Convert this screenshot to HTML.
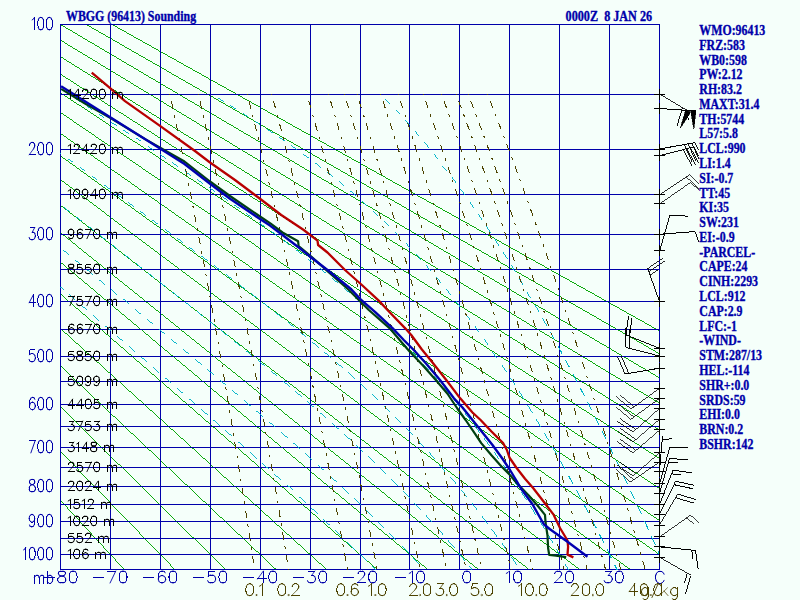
<!DOCTYPE html>
<html><head><meta charset="utf-8"><title>WBGG (96413) Sounding</title>
<style>html,body{margin:0;padding:0;background:#f5fffa;}svg{display:block;}text{font-family:"Liberation Serif",serif;font-weight:bold;fill:#0000aa;stroke:#0000aa;stroke-width:0.35px;}</style>
</head><body>
<svg width="800" height="600" viewBox="0 0 800 600">
<rect x="0" y="0" width="800" height="600" fill="#f5fffa"/>
<defs><clipPath id="plot"><rect x="60" y="24" width="600" height="546"/></clipPath><clipPath id="barbclip"><rect x="0" y="0" width="699" height="600"/></clipPath></defs>
<g clip-path="url(#plot)" shape-rendering="crispEdges" fill="none">
<path d="M-381.06,22 L125.65,571 M-355.34,22 L176.31,571 M-329.62,22 L226.98,571 M-303.89,22 L277.64,571 M-278.17,22 L328.31,571 M-252.45,22 L378.98,571 M-226.72,22 L429.64,571 M-201,22 L480.31,571 M-175.28,22 L530.98,571 M-149.55,22 L581.64,571 M-123.83,22 L632.31,571 M-98.11,22 L682.98,571 M-72.38,22 L733.64,571 M-46.66,22 L784.31,571 M-20.93,22 L834.97,571 M4.79,22 L885.64,571 M30.51,22 L936.31,571 M56.24,22 L986.97,571 M81.96,22 L1037.64,571 M107.68,22 L1088.31,571" stroke="#00a400" stroke-width="0.95" fill="none" />
</g>
<g shape-rendering="crispEdges" fill="none" stroke="#0000aa" stroke-width="1">
<path d="M60,24.5 H660 M60,94.5 H660 M60,149.5 H660 M60,194.5 H660 M60,234.5 H660 M60,269.5 H660 M60,301.5 H660 M60,329.5 H660 M60,356.5 H660 M60,381.5 H660 M60,404.5 H660 M60,426.5 H660 M60,447.5 H660 M60,467.5 H660 M60,486.5 H660 M60,504.5 H660 M60,521.5 H660 M60,538.5 H660 M60,554.5 H660 M60,569.5 H660 M60.5,24 V570 M110.5,24 V570 M160.5,24 V570 M210.5,24 V570 M260.5,24 V570 M310.5,24 V570 M360.5,24 V570 M409.5,24 V570 M459.5,24 V570 M509.5,24 V570 M559.5,24 V570 M609.5,24 V570 M659.5,24 V570"/>
</g>
<g clip-path="url(#plot)" shape-rendering="crispEdges" fill="none">
<path d="M-157.67,98.67 L-152.73,102.94 M-146.69,108.15 L-141.69,112.47 M-135.67,117.67 L-130.62,122.03 M-124.61,127.22 L-119.51,131.63 M-113.51,136.81 L-108.35,141.26 M-102.37,146.42 L-97.16,150.93 M-91.2,156.08 L-85.93,160.63 M-79.98,165.76 L-74.66,170.36 M-68.73,175.48 L-63.35,180.13 M-57.44,185.24 L-52,189.93 M-46.1,195.03 L-40.62,199.77 M-34.73,204.85 L-29.19,209.64 M-23.32,214.71 L-17.72,219.55 M-11.87,224.6 L-6.21,229.49 M-0.38,234.53 L5.34,239.47 M11.15,244.49 L16.92,249.48 M22.73,254.49 L28.55,259.53 M34.34,264.53 L40.22,269.61 M45.99,274.6 L51.93,279.73 M57.68,284.7 L63.68,289.89 M69.41,294.85 L75.47,300.08 M81.19,305.03 L87.3,310.31 M93,315.24 L99.17,320.58 M104.85,325.5 L111.07,330.89 M116.74,335.79 L123.02,341.24 M128.67,346.13 L135.01,351.62 M140.63,356.5 L147.03,362.05 M152.64,366.92 L159.09,372.53 M164.68,377.39 L171.18,383.05 M176.75,387.9 L183.31,393.61 M188.85,398.45 L195.47,404.23 M200.99,409.06 L207.66,414.9 M213.15,419.73 L219.87,425.63 M225.34,430.45 L232.11,436.42 M237.55,441.23 L244.36,447.28 M249.77,452.09 L256.63,458.2 M262.01,463.02 L268.91,469.21 M274.26,474.02 L281.19,480.3 M286.5,485.12 L293.47,491.48 M298.74,496.31 L305.74,502.76 M310.96,507.61 L317.99,514.16 M323.16,519.02 L330.21,525.67 M335.33,530.55 L342.39,537.32 M347.45,542.22 L354.52,549.11 M359.53,554.03 L366.59,561.05 M371.53,566 L375.44,569.94 M-120.91,98.55 L-115.87,102.7 M-109.7,107.77 L-104.61,111.96 M-98.46,117.02 L-93.31,121.26 M-87.18,126.3 L-81.98,130.58 M-75.86,135.62 L-70.6,139.94 M-64.5,144.97 L-59.19,149.34 M-53.11,154.35 L-47.74,158.76 M-41.67,163.76 L-36.25,168.22 M-30.2,173.2 L-24.72,177.7 M-18.68,182.68 L-13.16,187.23 M-7.13,192.18 L-1.55,196.78 M4.46,201.72 L10.1,206.37 M16.09,211.3 L21.78,215.99 M27.76,220.91 L33.51,225.64 M39.46,230.55 L45.27,235.33 M51.21,240.22 L57.07,245.05 M63,249.93 L68.92,254.8 M74.82,259.67 L80.8,264.6 M86.69,269.45 L92.72,274.42 M98.59,279.27 L104.68,284.28 M110.53,289.12 L116.67,294.18 M122.51,299.01 L128.71,304.12 M134.53,308.93 L140.78,314.1 M146.58,318.9 L152.88,324.12 M158.66,328.91 L165.02,334.18 M170.78,338.97 L177.19,344.29 M182.93,349.07 L189.39,354.45 M195.11,359.22 L201.62,364.66 M207.31,369.42 L213.88,374.92 M219.54,379.68 L226.15,385.25 M231.79,390.01 L238.45,395.64 M244.05,400.4 L250.75,406.1 M256.33,410.87 L263.06,416.65 M268.6,421.42 L275.38,427.28 M280.87,432.05 L287.68,438 M293.14,442.79 L299.97,448.83 M305.38,453.64 L312.24,459.77 M317.6,464.6 L324.47,470.84 M329.78,475.69 L336.66,482.04 M341.91,486.92 L348.8,493.39 M353.98,498.31 L360.87,504.9 M365.99,509.85 L372.87,516.58 M377.91,521.57 L384.77,528.44 M389.73,533.47 L396.57,540.49 M401.45,545.57 L408.26,552.74 M413.06,557.86 L419.83,565.2 M-75.93,98.41 L-70.78,102.42 M-64.48,107.32 L-59.27,111.37 M-52.99,116.26 L-47.73,120.35 M-41.46,125.23 L-36.15,129.36 M-29.89,134.23 L-24.53,138.4 M-18.29,143.26 L-12.87,147.47 M-6.65,152.31 L-1.18,156.57 M5.03,161.4 L10.55,165.7 M16.75,170.52 L22.32,174.86 M28.5,179.67 L34.13,184.06 M40.3,188.85 L45.98,193.28 M52.13,198.07 L57.87,202.54 M64,207.31 L69.79,211.82 M75.9,216.59 L81.75,221.14 M87.85,225.9 L93.75,230.5 M99.83,235.24 L105.79,239.89 M111.85,244.62 L117.86,249.31 M123.9,254.03 L129.97,258.77 M135.99,263.48 L142.11,268.27 M148.11,272.97 L154.28,277.81 M160.27,282.5 L166.49,287.39 M172.45,292.08 L178.73,297.02 M184.67,301.7 L190.99,306.69 M196.91,311.38 L203.28,316.43 M209.17,321.11 L215.58,326.21 M221.45,330.89 L227.91,336.07 M233.74,340.75 L240.24,345.99 M246.05,350.68 L252.59,355.99 M258.35,360.69 L264.93,366.07 M270.65,370.79 L277.26,376.26 M282.95,380.99 L289.58,386.54 M295.22,391.29 L301.87,396.94 M307.46,401.72 L314.13,407.47 M319.66,412.28 L326.34,418.14 M331.81,422.98 L338.5,428.96 M343.9,433.84 L350.58,439.95 M355.92,444.87 L362.59,451.11 M367.84,456.08 L374.5,462.46 M379.67,467.48 L386.31,474 M391.39,479.08 L397.99,485.76 M402.99,490.89 L409.55,497.73 M414.45,502.91 L420.97,509.92 M425.77,515.16 L432.24,522.33 M436.94,527.63 L443.36,534.98 M447.95,540.33 L454.31,547.85 M458.81,553.26 L465.11,560.96 M469.49,566.41 L472.3,569.94 M-15.33,98.24 L-10.04,102.06 M-3.58,106.75 L1.76,110.62 M8.21,115.29 L13.59,119.2 M20.03,123.86 L25.46,127.8 M31.88,132.46 L37.37,136.44 M43.78,141.09 L49.32,145.11 M55.71,149.74 L61.3,153.8 M67.68,158.42 L73.32,162.52 M79.68,167.14 L85.38,171.27 M91.72,175.88 L97.47,180.06 M103.79,184.66 L109.59,188.88 M115.9,193.46 L121.75,197.73 M128.04,202.31 L133.94,206.61 M140.21,211.19 L146.17,215.54 M152.42,220.11 L158.42,224.5 M164.65,229.07 L170.7,233.51 M176.91,238.07 L183.01,242.57 M189.19,247.13 L195.34,251.68 M201.49,256.24 L207.68,260.84 M213.81,265.41 L220.04,270.07 M226.14,274.65 L232.41,279.37 M238.47,283.96 L244.78,288.76 M250.81,293.36 L257.15,298.23 M263.13,302.85 L269.5,307.8 M275.44,312.44 L281.84,317.48 M287.73,322.15 L294.14,327.28 M299.98,331.99 L306.4,337.22 M312.18,341.97 L318.61,347.31 M324.32,352.1 L330.75,357.56 M336.39,362.4 L342.82,367.99 M348.38,372.89 L354.79,378.61 M360.27,383.57 L366.66,389.43 M372.05,394.45 L378.42,400.46 M383.71,405.55 L390.04,411.72 M395.24,416.87 L401.52,423.2 M406.62,428.42 L412.86,434.92 M417.84,440.21 L424.03,446.88 M428.91,452.23 L435.04,459.08 M439.81,464.5 L445.88,471.52 M450.54,476.99 L456.55,484.19 M461.09,489.73 L467.04,497.1 M471.48,502.69 L477.36,510.23 M481.68,515.87 L487.5,523.59 M491.72,529.28 L497.48,537.17 M501.59,542.9 L507.28,550.96 M511.29,556.72 L516.92,564.95 M74.63,98 L80.08,101.59 M86.74,105.99 L92.24,109.61 M98.89,114 L104.43,117.66 M111.06,122.05 L116.65,125.75 M123.27,130.13 L128.91,133.86 M135.5,138.24 L141.19,142.02 M147.77,146.39 L153.5,150.21 M160.05,154.58 L165.83,158.44 M172.37,162.82 L178.18,166.73 M184.69,171.11 L190.55,175.07 M197.04,179.46 L202.94,183.46 M209.39,187.87 L215.33,191.93 M221.75,196.35 L227.72,200.48 M234.11,204.91 L240.11,209.12 M246.45,213.58 L252.49,217.85 M258.78,222.34 L264.84,226.7 M271.09,231.23 L277.16,235.67 M283.35,240.24 L289.44,244.79 M295.57,249.41 L301.66,254.06 M307.72,258.73 L313.81,263.5 M319.8,268.24 L325.88,273.13 M331.78,277.94 L337.85,282.97 M343.67,287.85 L349.72,293.01 M355.44,297.98 L361.46,303.29 M367.08,308.33 L373.06,313.8 M378.57,318.93 L384.51,324.56 M389.91,329.78 L395.81,335.57 M401.1,340.87 L406.94,346.83 M412.1,352.21 L417.89,358.35 M422.94,363.81 L428.67,370.12 M433.59,375.65 L439.26,382.14 M444.06,387.74 L449.67,394.4 M454.36,400.07 L459.9,406.9 M464.47,412.63 L469.95,419.63 M474.4,425.42 L479.82,432.58 M484.16,438.42 L489.53,445.75 M493.76,451.64 L499.06,459.13 M503.19,465.06 L508.44,472.71 M512.46,478.67 L517.66,486.49 M521.59,492.47 L526.74,500.44 M530.57,506.46 L535.67,514.58 M539.41,520.62 L544.47,528.89 M548.13,534.95 L553.15,543.37 M556.72,549.44 L561.7,558.02 M565.19,564.09 L568.51,569.94 M217.94,97.83 L223.5,101.24 M230.28,105.45 L235.86,108.95 M242.61,113.19 L248.19,116.77 M254.88,121.07 L260.49,124.74 M267.11,129.1 L272.73,132.86 M279.29,137.3 L284.91,141.16 M291.39,145.68 L297,149.66 M303.41,154.25 L309,158.37 M315.32,163.05 L320.89,167.3 M327.1,172.1 L332.67,176.48 M338.76,181.39 L344.29,185.91 M350.28,190.92 L355.76,195.62 M361.63,200.74 L367.08,205.58 M372.82,210.81 L378.21,215.84 M383.82,221.17 L389.17,226.36 M394.65,231.79 L399.94,237.15 M405.28,242.68 L410.52,248.21 M415.73,253.84 L420.9,259.53 M425.99,265.25 L431.1,271.11 M436.05,276.91 L441.11,282.93 M445.94,288.8 L450.94,294.99 M455.64,300.92 L460.59,307.27 M465.17,313.26 L470.07,319.77 M474.53,325.81 L479.38,332.47 M483.74,338.57 L488.54,345.38 M492.79,351.51 L497.54,358.47 M501.69,364.64 L506.4,371.75 M510.46,377.95 L515.13,385.2 M519.09,391.43 L523.73,398.82 M527.59,405.07 L532.2,412.61 M535.98,418.87 L540.56,426.55 M544.26,432.83 L548.81,440.64 M552.43,446.93 L556.95,454.88 M560.5,461.18 L565,469.27 M385.42,99.06 L389.99,103.73 M395.46,109.54 L399.97,114.37 M405.32,120.26 L409.77,125.26 M415,131.23 L419.39,136.38 M424.48,142.44 L428.85,147.73 M433.8,153.86 L438.11,159.3 M442.95,165.5 L447.23,171.07 M451.96,177.33 L456.19,183.05 M460.8,189.36 L465.01,195.21 M469.51,201.56 L473.69,207.55 M478.08,213.94 L482.24,220.06 M486.54,226.49 L490.66,232.74 M494.87,239.19 L498.97,245.57 M503.09,252.05 L507.17,258.56 M511.2,265.06 L515.27,271.69 M519.21,278.21 L523.27,284.97 M527.13,291.5 L531.17,298.38 M534.97,304.92 L538.99,311.93 M542.71,318.48 L546.72,325.61" stroke="#00b4c8" stroke-width="0.95" fill="none" />
<path d="M568.47,475.57 L572.96,483.79 M576.36,490.09 L580.83,498.45 M584.16,504.75 L588.61,513.24 M591.88,519.54 L596.32,528.17 M599.53,534.46 L603.95,543.22 M607.1,549.51 L611.51,558.4 M614.6,564.68 L617.18,569.94 M550.38,332.17 L554.38,339.42 M557.97,345.98 L561.96,353.35 M565.48,359.91 L569.48,367.41 M572.94,373.97 L576.92,381.59 M580.32,388.14 L584.31,395.88 M587.65,402.43 L591.63,410.3 M594.92,416.84 L598.9,424.82 M602.13,431.36 L606.11,439.47 M609.29,445.99 L613.27,454.22 M616.4,460.74 L620.39,469.09 M623.47,475.59 L627.45,484.06 M630.49,490.55 L634.48,499.15 M637.47,505.62 L641.46,514.34 M644.4,520.8 L648.4,529.64 M651.3,536.09 L655.31,545.05 M658.16,551.48 L662.18,560.57 M664.99,566.98 L666.29,569.94" stroke="#00b4c8" stroke-width="1" fill="none" />
</g>
<g clip-path="url(#plot)" shape-rendering="crispEdges" fill="none">
<path d="M169.9,94.42 L170.03,95.01 M171.43,101.46 L172.97,108.59 M174.35,115.05 L174.9,117.59 M176.26,124.05 L177.77,131.19 M179.12,137.65 L179.65,140.19 M180.99,146.66 L182.47,153.81 M183.79,160.27 L184.31,162.82 M185.62,169.29 L187.06,176.45 M188.36,182.92 L188.87,185.47 M190.15,191.94 L191.56,199.1 M192.83,205.58 L193.33,208.13 M194.59,214.61 L195.97,221.78 M197.22,228.26 L197.7,230.81 M198.94,237.3 L200.3,244.47 M201.52,250.96 L201.99,253.51 M203.21,260 L204.54,267.18 M205.73,273.67 L206.21,276.22 M207.39,282.72 L208.7,289.9 M209.88,296.39 L210.34,298.95 M211.51,305.45 L212.79,312.63 M213.95,319.13 L214.4,321.69 M215.55,328.19 L216.81,335.38 M217.94,341.88 L218.39,344.45 M219.52,350.95 L220.76,358.14 M221.87,364.65 L222.31,367.21 M223.42,373.72 L224.64,380.91 M225.74,387.42 L226.17,389.99 M227.26,396.49 L228.46,403.69 M229.54,410.21 L229.97,412.77 M231.04,419.28 L232.22,426.49 M233.28,433 L233.7,435.57 M234.76,442.08 L235.92,449.29 M236.97,455.8 L237.38,458.37 M238.42,464.89 L239.57,472.1 M240.6,478.62 L241.01,481.19 M242.03,487.71 L243.16,494.92 M244.18,501.44 L244.58,504.01 M245.59,510.53 L246.71,517.74 M247.71,524.27 L248.1,526.84 M249.1,533.36 L250.2,540.58 M251.19,547.1 L251.57,549.67 M252.56,556.2 L253.64,563.42 M198.39,94.42 L198.52,95.01 M200.01,101.44 L201.64,108.55 M203.11,114.99 L203.68,117.52 M205.13,123.96 L206.73,131.09 M208.17,137.53 L208.73,140.07 M210.15,146.51 L211.71,153.64 M213.12,160.09 L213.67,162.63 M215.06,169.08 L216.59,176.22 M217.96,182.68 L218.5,185.22 M219.87,191.68 L221.36,198.82 M222.71,205.28 L223.24,207.83 M224.58,214.29 L226.05,221.44 M227.37,227.91 L227.89,230.46 M229.2,236.93 L230.64,244.08 M231.94,250.55 L232.45,253.1 M233.73,259.58 L235.15,266.74 M236.42,273.21 L236.92,275.76 M238.19,282.24 L239.58,289.41 M240.83,295.89 L241.32,298.44 M242.56,304.93 L243.92,312.1 M245.15,318.58 L245.64,321.14 M246.86,327.62 L248.2,334.8 M249.41,341.29 L249.88,343.84 M251.08,350.33 L252.4,357.51 M253.59,364 L254.06,366.56 M255.24,373.06 L256.54,380.24 M257.71,386.73 L258.17,389.29 M259.33,395.79 L260.61,402.98 M261.76,409.48 L262.21,412.04 M263.35,418.54 L264.61,425.73 M265.75,432.23 L266.19,434.79 M267.32,441.29 L268.56,448.49 M269.67,454.99 L270.11,457.56 M271.22,464.06 L272.45,471.26 M273.55,477.77 L273.98,480.33 M275.07,486.84 L276.28,494.04 M277.36,500.55 L277.79,503.11 M278.87,509.62 L280.06,516.83 M281.13,523.34 L281.55,525.91 M282.61,532.42 L283.78,539.62 M284.84,546.14 L285.25,548.71 M286.3,555.22 L287.46,562.43 M288.5,568.95 L288.66,569.94 M247.31,94.42 L247.45,95 M249.08,101.4 L250.88,108.48 M252.49,114.88 L253.13,117.4 M254.72,123.8 L256.48,130.89 M258.06,137.29 L258.68,139.82 M260.24,146.23 L261.96,153.33 M263.51,159.74 L264.11,162.27 M265.65,168.69 L267.34,175.79 M268.85,182.22 L269.45,184.75 M270.95,191.17 L272.6,198.28 M274.09,204.71 L274.67,207.25 M276.15,213.68 L277.77,220.8 M279.23,227.23 L279.8,229.77 M281.25,236.21 L282.84,243.33 M284.28,249.78 L284.84,252.32 M286.26,258.76 L287.83,265.89 M289.23,272.34 L289.79,274.88 M291.18,281.33 L292.72,288.47 M294.11,294.92 L294.65,297.46 M296.02,303.92 L297.53,311.06 M298.89,317.52 L299.43,320.06 M300.78,326.52 L302.27,333.67 M303.6,340.13 L304.13,342.68 M305.46,349.14 L306.92,356.29 M308.24,362.76 L308.76,365.31 M310.07,371.78 L311.51,378.94 M312.8,385.41 L313.31,387.96 M314.6,394.43 L316.02,401.59 M317.3,408.07 L317.8,410.62 M319.07,417.09 L320.47,424.26 M321.73,430.74 L322.22,433.29 M323.47,439.77 L324.85,446.94 M326.09,453.42 L326.58,455.97 M327.81,462.46 L329.17,469.63 M330.39,476.12 L330.87,478.67 M332.09,485.16 L333.43,492.33 M334.64,498.82 L335.11,501.38 M336.31,507.87 L337.63,515.05 M338.82,521.54 L339.29,524.1 M340.47,530.59 L341.78,537.77 M342.95,544.27 L343.41,546.83 M344.58,553.32 L345.87,560.51 M347.03,567.01 L347.49,569.57 M271.78,94.42 L271.94,95 M273.64,101.38 L275.52,108.43 M277.21,114.81 L277.87,117.33 M279.54,123.71 L281.38,130.78 M283.04,137.17 L283.69,139.68 M285.32,146.08 L287.12,153.15 M288.75,159.55 L289.38,162.07 M290.99,168.47 L292.75,175.56 M294.34,181.96 L294.97,184.49 M296.54,190.89 L298.27,197.99 M299.83,204.4 L300.44,206.93 M301.99,213.34 L303.69,220.44 M305.22,226.86 L305.82,229.39 M307.34,235.81 L309.01,242.92 M310.52,249.35 L311.11,251.88 M312.6,258.31 L314.24,265.42 M315.72,271.85 L316.3,274.39 M317.76,280.82 L319.38,287.94 M320.83,294.38 L321.4,296.92 M322.84,303.36 L324.43,310.48 M325.86,316.93 L326.42,319.47 M327.84,325.91 L329.4,333.04 M330.81,339.49 L331.36,342.03 M332.75,348.48 L334.29,355.62 M335.68,362.07 L336.22,364.61 M337.6,371.07 L339.11,378.21 M340.47,384.67 L341.01,387.21 M342.36,393.67 L343.85,400.82 M345.2,407.28 L345.72,409.83 M347.06,416.29 L348.53,423.44 M349.85,429.91 L350.37,432.45 M351.69,438.92 L353.14,446.08 M354.44,452.54 L354.96,455.09 M356.25,461.56 L357.68,468.72 M358.97,475.2 L359.48,477.75 M360.76,484.22 L362.17,491.38 M363.44,497.86 L363.93,500.41 M365.2,506.89 L366.59,514.06 M367.84,520.54 L368.33,523.09 M369.58,529.57 L370.95,536.74 M372.19,543.22 L372.68,545.78 M373.91,552.26 L375.26,559.44 M376.49,565.92 L376.97,568.48 M306.93,94.42 L307.1,95 M308.92,101.35 L310.92,108.37 M312.71,114.72 L313.42,117.22 M315.2,123.57 L317.16,130.61 M318.92,136.97 L319.61,139.47 M321.36,145.84 L323.28,152.88 M325.01,159.25 L325.68,161.76 M327.4,168.13 L329.28,175.19 M330.98,181.57 L331.64,184.08 M333.32,190.46 L335.17,197.52 M336.84,203.91 L337.49,206.43 M339.14,212.82 L340.96,219.89 M342.59,226.28 L343.23,228.8 M344.86,235.2 L346.64,242.28 M348.25,248.68 L348.88,251.2 M350.47,257.6 L352.23,264.69 M353.81,271.1 L354.43,273.62 M356,280.03 L357.72,287.13 M359.28,293.54 L359.89,296.07 M361.43,302.49 L363.13,309.59 M364.66,316.01 L365.26,318.54 M366.78,324.96 L368.45,332.06 M369.96,338.49 L370.55,341.02 M372.04,347.45 L373.69,354.56 M375.17,360.99 L375.75,363.53 M377.23,369.96 L378.85,377.08 M380.31,383.52 L380.89,386.05 M382.34,392.49 L383.94,399.61 M385.38,406.05 L385.94,408.59 M387.37,415.03 L388.95,422.16 M390.37,428.61 L390.93,431.15 M392.34,437.59 L393.9,444.73 M395.3,451.18 L395.85,453.72 M397.24,460.17 L398.77,467.31 M400.15,473.76 L400.7,476.3 M402.07,482.76 L403.59,489.9 M404.95,496.36 L405.48,498.9 M406.84,505.36 L408.34,512.5 M409.68,518.97 L410.21,521.51 M411.55,527.97 L413.03,535.12 M414.36,541.59 L414.88,544.14 M416.2,550.6 L417.66,557.75 M418.97,564.22 L419.49,566.77 M328.6,94.42 L328.77,95 M330.65,101.32 L332.73,108.32 M334.6,114.65 L335.33,117.15 M337.18,123.48 L339.21,130.49 M341.04,136.83 L341.76,139.33 M343.58,145.68 L345.57,152.7 M347.37,159.05 L348.07,161.56 M349.85,167.91 L351.81,174.94 M353.57,181.3 L354.26,183.81 M356.01,190.17 L357.93,197.22 M359.66,203.59 L360.34,206.1 M362.06,212.47 L363.95,219.52 M365.65,225.9 L366.32,228.41 M368.01,234.79 L369.86,241.85 M371.53,248.23 L372.19,250.75 M373.85,257.14 L375.68,264.21 M377.32,270.6 L377.96,273.12 M379.6,279.51 L381.39,286.59 M383.01,292.99 L383.65,295.51 M385.25,301.91 L387.02,308.99 M388.62,315.4 L389.24,317.92 M390.82,324.33 L392.57,331.42 M394.13,337.83 L394.75,340.35 M396.31,346.77 L398.02,353.86 M399.57,360.28 L400.18,362.81 M401.71,369.23 L403.4,376.33 M404.92,382.75 L405.52,385.28 M407.04,391.7 L408.7,398.81 M410.21,405.24 L410.79,407.77 M412.29,414.2 L413.93,421.31 M415.41,427.74 L415.99,430.28 M417.47,436.71 L419.09,443.83 M420.55,450.26 L421.12,452.8 M422.58,459.24 L424.18,466.36 M425.62,472.8 L426.18,475.34 M427.62,481.78 L429.2,488.91 M430.62,495.35 L431.18,497.89 M432.6,504.34 L434.16,511.47 M435.56,517.92 L436.11,520.46 M437.51,526.91 L439.05,534.04 M440.44,540.5 L440.99,543.04 M442.37,549.49 L443.89,556.63 M445.26,563.09 L445.8,565.63 M344.49,94.42 L344.66,95 M346.6,101.31 L348.73,108.29 M350.65,114.6 L351.4,117.09 M353.3,123.41 L355.39,130.41 M357.27,136.73 L358.01,139.23 M359.87,145.56 L361.92,152.56 M363.77,158.9 L364.49,161.4 M366.32,167.74 L368.34,174.76 M370.15,181.1 L370.86,183.6 M372.66,189.95 L374.63,196.98 M376.41,203.34 L377.11,205.84 M378.88,212.2 L380.82,219.24 M382.57,225.6 L383.26,228.11 M384.99,234.48 L386.9,241.52 M388.62,247.89 L389.3,250.4 M391.01,256.78 L392.89,263.83 M394.58,270.21 L395.24,272.73 M396.92,279.11 L398.77,286.17 M400.44,292.56 L401.09,295.07 M402.75,301.46 L404.57,308.53 M406.21,314.93 L406.85,317.44 M408.48,323.84 L410.27,330.92 M411.89,337.32 L412.52,339.84 M414.13,346.24 L415.89,353.32 M417.49,359.73 L418.11,362.25 M419.69,368.66 L421.44,375.75 M423,382.16 L423.62,384.68 M425.18,391.1 L426.9,398.19 M428.44,404.61 L429.05,407.14 M430.59,413.55 L432.28,420.66 M433.81,427.08 L434.41,429.61 M435.93,436.03 L437.6,443.14 M439.11,449.56 L439.7,452.09 M441.19,458.52 L442.85,465.63 M444.33,472.06 L444.92,474.6 M446.39,481.03 L448.02,488.14 M449.49,494.58 L450.07,497.11 M451.53,503.55 L453.14,510.67 M454.59,517.11 L455.16,519.65 M456.6,526.09 L458.19,533.21 M459.62,539.66 L460.18,542.19 M461.61,548.64 L463.18,555.77 M464.59,562.21 L465.15,564.75 M357.11,94.42 L357.29,95 M359.27,101.29 L361.45,108.26 M363.41,114.56 L364.18,117.05 M366.11,123.36 L368.25,130.34 M370.17,136.65 L370.93,139.14 M372.83,145.46 L374.92,152.45 M376.81,158.78 L377.55,161.27 M379.42,167.6 L381.48,174.6 M383.33,180.94 L384.05,183.43 M385.89,189.77 L387.91,196.79 M389.73,203.13 L390.44,205.63 M392.25,211.98 L394.24,219 M396.02,225.36 L396.73,227.86 M398.5,234.22 L400.46,241.25 M402.21,247.61 L402.9,250.12 M404.65,256.48 L406.57,263.53 M408.3,269.9 L408.98,272.41 M410.7,278.78 L412.59,285.83 M414.3,292.21 L414.97,294.72 M416.66,301.1 L418.52,308.16 M420.2,314.54 L420.86,317.05 M422.52,323.44 L424.36,330.51 M426.01,336.89 L426.66,339.41 M428.3,345.8 L430.11,352.88 M431.74,359.27 L432.38,361.79 M434,368.19 L435.78,375.27 M437.39,381.67 L438.02,384.19 M439.62,390.6 L441.37,397.68 M442.96,404.09 L443.58,406.62 M445.16,413.02 L446.89,420.12 M448.45,426.53 L449.07,429.05 M450.62,435.47 L452.33,442.56 M453.87,448.98 L454.48,451.51 M456.01,457.93 L457.7,465.03 M459.23,471.45 L459.82,473.98 M461.34,480.41 L463.01,487.51 M464.51,493.94 L465.1,496.47 M466.6,502.9 L468.25,510.01 M469.73,516.44 L470.31,518.98 M471.79,525.41 L473.42,532.53 M474.89,538.96 L475.46,541.5 M476.93,547.93 L478.53,555.05 M479.98,561.49 L480.55,564.03 M380.75,94.42 L380.94,94.99 M382.99,101.27 L385.26,108.21 M387.29,114.48 L388.09,116.96 M390.1,123.24 L392.33,130.2 M394.32,136.49 L395.11,138.97 M397.09,145.26 L399.26,152.23 M401.23,158.53 L401.99,161.02 M403.94,167.32 L406.08,174.3 M408.01,180.61 L408.76,183.1 M410.67,189.42 L412.78,196.41 M414.67,202.73 L415.41,205.22 M417.29,211.55 L419.36,218.55 M421.22,224.88 L421.96,227.38 M423.8,233.71 L425.84,240.72 M427.67,247.07 L428.39,249.56 M430.21,255.91 L432.21,262.93 M434.02,269.28 L434.72,271.78 M436.51,278.13 L438.49,285.16 M440.26,291.52 L440.96,294.02 M442.72,300.38 L444.67,307.42 M446.42,313.78 L447.1,316.29 M448.84,322.66 L450.76,329.7 M452.48,336.07 L453.16,338.58 M454.87,344.96 L456.76,352.01 M458.46,358.38 L459.13,360.9 M460.82,367.28 L462.68,374.34 M464.35,380.72 L465.01,383.24 M466.68,389.62 L468.51,396.69 M470.17,403.08 L470.82,405.59 M472.46,411.99 L474.27,419.06 M475.91,425.45 L476.55,427.97 M478.17,434.37 L479.96,441.45 M481.57,447.85 L482.2,450.37 M483.8,456.77 L485.57,463.85 M487.16,470.26 L487.79,472.78 M489.37,479.19 L491.11,486.28 M492.69,492.69 L493.3,495.22 M494.87,501.63 L496.59,508.72 M498.14,515.14 L498.75,517.66 M500.3,524.08 L502,531.18 M503.54,537.6 L504.14,540.13 M505.67,546.55 L507.35,553.65 M508.87,560.07 L509.46,562.6 M510.97,569.03 L511.19,569.94 M398.07,94.42 L398.26,94.99 M400.37,101.24 L402.7,108.16 M404.79,114.42 L405.61,116.89 M407.68,123.16 L409.97,130.09 M412.02,136.36 L412.83,138.84 M414.86,145.11 L417.1,152.06 M419.12,158.35 L419.91,160.82 M421.91,167.11 L424.11,174.07 M426.09,180.37 L426.87,182.85 M428.84,189.15 L431.01,196.12 M432.95,202.43 L433.72,204.91 M435.65,211.22 L437.78,218.2 M439.7,224.52 L440.45,227.01 M442.36,233.33 L444.45,240.32 M446.34,246.65 L447.08,249.14 M448.95,255.47 L451.01,262.47 M452.87,268.8 L453.6,271.3 M455.45,277.63 L457.48,284.65 M459.31,290.99 L460.02,293.49 M461.84,299.83 L463.85,306.85 M465.65,313.2 L466.36,315.7 M468.15,322.05 L470.12,329.08 M471.9,335.44 L472.59,337.94 M474.36,344.3 L476.31,351.34 M478.06,357.7 L478.75,360.21 M480.49,366.57 L482.41,373.62 M484.14,379.99 L484.82,382.5 M486.54,388.87 L488.43,395.92 M490.13,402.29 L490.81,404.81 M492.5,411.19 L494.37,418.24 M496.05,424.62 L496.72,427.14 M498.39,433.52 L500.24,440.58 M501.9,446.97 L502.55,449.49 M504.21,455.88 L506.03,462.95 M507.67,469.34 L508.32,471.86 M509.95,478.25 L511.75,485.33 M513.37,491.72 L514.01,494.25 M515.62,500.64 L517.4,507.72 M519.01,514.13 L519.64,516.65 M521.23,523.05 L522.99,530.14 M524.57,536.55 L525.2,539.07 M526.77,545.48 L528.51,552.57 M530.08,558.98 L530.7,561.51 M532.26,567.92 L532.75,569.94 M423.25,94.42 L423.45,94.99 M425.64,101.21 L428.06,108.1 M430.23,114.33 L431.09,116.79 M433.24,123.03 L435.62,129.93 M437.75,136.18 L438.59,138.64 M440.71,144.89 L443.04,151.8 M445.14,158.06 L445.96,160.53 M448.05,166.79 L450.34,173.72 M452.4,179.99 L453.21,182.46 M455.26,188.74 L457.52,195.68 M459.54,201.96 L460.34,204.43 M462.36,210.72 L464.58,217.67 M466.57,223.96 L467.36,226.44 M469.34,232.74 L471.52,239.7 M473.49,246 L474.26,248.49 M476.22,254.79 L478.37,261.77 M480.3,268.08 L481.06,270.56 M482.99,276.88 L485.11,283.86 M487.02,290.18 L487.77,292.67 M489.66,298.99 L491.75,305.98 M493.63,312.31 L494.37,314.8 M496.24,321.13 L498.3,328.14 M500.16,334.47 L500.89,336.97 M502.73,343.3 L504.76,350.32 M506.59,356.66 L507.31,359.16 M509.13,365.5 L511.14,372.52 M512.94,378.87 L513.65,381.37 M515.45,387.72 L517.43,394.75 M519.21,401.1 L519.91,403.6 M521.68,409.96 L523.64,417 M525.4,423.36 L526.09,425.86 M527.84,432.23 L529.77,439.27 M531.51,445.63 L532.19,448.14 M533.92,454.51 L535.83,461.56 M537.54,467.93 L538.22,470.44 M539.93,476.82 L541.81,483.87 M543.51,490.25 L544.17,492.76 M545.86,499.14 L547.73,506.2 M549.4,512.58 L550.06,515.1 M551.73,521.48 L553.57,528.55 M555.23,534.93 L555.89,537.45 M557.54,543.84 L559.36,550.91 M561,557.3 L561.64,559.82 M563.28,566.22 L564.23,569.94 M441.64,94.42 L441.85,94.99 M444.1,101.19 L446.59,108.05 M448.82,114.26 L449.7,116.71 M451.92,122.93 L454.36,129.81 M456.55,136.03 L457.42,138.48 M459.59,144.71 L461.99,151.61 M464.15,157.85 L465,160.3 M467.14,166.55 L469.5,173.45 M471.62,179.7 L472.46,182.17 M474.57,188.42 L476.89,195.34 M478.98,201.6 L479.8,204.07 M481.87,210.33 L484.16,217.27 M486.21,223.54 L487.02,226.01 M489.06,232.29 L491.31,239.23 M493.34,245.51 L494.13,247.99 M496.15,254.27 L498.36,261.23 M500.36,267.52 L501.14,270 M503.13,276.29 L505.31,283.26 M507.28,289.56 L508.05,292.04 M510,298.35 L512.16,305.32 M514.1,311.63 L514.86,314.12 M516.79,320.43 L518.91,327.41 M520.82,333.73 L521.58,336.22 M523.48,342.54 L525.57,349.53 M527.46,355.86 L528.2,358.35 M530.08,364.67 L532.15,371.68 M534.01,378.01 L534.74,380.5 M536.6,386.84 L538.64,393.84 M540.48,400.18 L541.2,402.68 M543.03,409.02 L545.05,416.04 M546.86,422.38 L547.58,424.88 M549.39,431.23 L551.38,438.25 M553.17,444.61 L553.88,447.11 M555.66,453.46 L557.63,460.49 M559.41,466.85 L560.1,469.35 M561.87,475.71 L563.81,482.75 M565.57,489.11 L566.26,491.62 M568,497.98 L569.92,505.03 M571.66,511.39 L572.34,513.9 M574.06,520.27 L575.97,527.32 M577.68,533.69 L578.36,536.21 M580.06,542.58 L581.94,549.63 M583.64,556.01 L584.31,558.53 M585.99,564.91 L587.32,569.94 M456.19,94.42 L456.4,94.99 M458.7,101.17 L461.25,108.01 M463.53,114.21 L464.42,116.65 M466.69,122.85 L469.19,129.71 M471.43,135.91 L472.31,138.36 M474.54,144.57 L476.99,151.45 M479.2,157.67 L480.06,160.12 M482.25,166.35 L484.66,173.24 M486.84,179.47 L487.69,181.92 M489.84,188.16 L492.22,195.07 M494.35,201.31 L495.19,203.77 M497.32,210.02 L499.65,216.94 M501.76,223.19 L502.58,225.66 M504.67,231.92 L506.98,238.85 M509.05,245.11 L509.86,247.58 M511.92,253.85 L514.19,260.79 M516.23,267.07 L517.04,269.54 M519.07,275.82 L521.3,282.77 M523.32,289.05 L524.11,291.53 M526.11,297.82 L528.31,304.78 M530.3,311.07 L531.08,313.55 M533.05,319.85 L535.23,326.82 M537.19,333.12 L537.96,335.6 M539.91,341.91 L542.05,348.89 M543.99,355.2 L544.75,357.68 M546.67,364 L548.79,370.98 M550.7,377.3 L551.45,379.79 M553.35,386.11 L555.44,393.11 M557.32,399.43 L558.06,401.92 M559.94,408.25 L562.01,415.25 M563.87,421.58 L564.6,424.08 M566.45,430.41 L568.5,437.42 M570.34,443.76 L571.06,446.26 M572.89,452.6 L574.91,459.61 M576.73,465.96 L577.44,468.46 M579.25,474.81 L581.25,481.83 M583.04,488.18 L583.75,490.68 M585.54,497.03 L587.51,504.06 M589.29,510.42 L589.99,512.92 M591.76,519.28 L593.71,526.31 M595.47,532.68 L596.16,535.18 M597.91,541.55 L599.84,548.59 M601.58,554.95 L602.27,557.46 M604,563.83 L605.66,569.94 M468.25,94.42 L468.46,94.98 M470.81,101.15 L473.39,107.98 M475.71,114.16 L476.63,116.59 M478.93,122.78 L481.47,129.62 M483.76,135.81 L484.65,138.25 M486.92,144.45 L489.42,151.31 M491.66,157.52 L492.55,159.96 M494.78,166.17 L497.23,173.05 M499.44,179.27 L500.31,181.72 M502.51,187.94 L504.93,194.83 M507.1,201.06 L507.96,203.52 M510.12,209.75 L512.5,216.65 M514.64,222.9 L515.49,225.36 M517.62,231.6 L519.96,238.52 M522.07,244.77 L522.9,247.23 M525,253.49 L527.31,260.41 M529.39,266.68 L530.21,269.15 M532.28,275.41 L534.56,282.35 M536.61,288.62 L537.42,291.09 M539.46,297.37 L541.71,304.31 M543.73,310.6 L544.53,313.07 M546.54,319.36 L548.76,326.31 M550.76,332.6 L551.54,335.08 M553.53,341.37 L555.72,348.34 M557.69,354.64 L558.47,357.12 M560.43,363.42 L562.59,370.39 M564.54,376.7 L565.3,379.18 M567.24,385.49 L569.37,392.48 M571.3,398.79 L572.05,401.28 M573.96,407.59 L576.07,414.58 M577.97,420.9 L578.72,423.39 M580.61,429.72 L582.7,436.71 M584.57,443.04 L585.31,445.53 M587.18,451.86 L589.24,458.87 M591.1,465.2 L591.83,467.7 M593.67,474.03 L595.71,481.04 M597.54,487.38 L598.27,489.88 M600.09,496.22 L602.11,503.24 M603.92,509.58 L604.64,512.08 M606.44,518.43 L608.44,525.45 M610.23,531.8 L610.94,534.31 M612.73,540.66 L614.7,547.69 M616.47,554.05 L617.17,556.55 M618.94,562.91 L620.89,569.94 M487.55,94.42 L487.77,94.98 M490.18,101.13 L492.84,107.93 M495.22,114.08 L496.16,116.5 M498.53,122.66 L501.15,129.48 M503.49,135.65 L504.42,138.08 M506.75,144.25 L509.32,151.09 M511.63,157.27 L512.53,159.71 M514.83,165.89 L517.36,172.74 M519.63,178.94 L520.52,181.38 M522.78,187.58 L525.27,194.44 M527.51,200.65 L528.39,203.1 M530.62,209.31 L533.07,216.19 M535.28,222.41 L536.14,224.86 M538.34,231.08 L540.75,237.97 M542.93,244.2 L543.78,246.66 M545.94,252.9 L548.33,259.8 M550.47,266.04 L551.31,268.5 M553.45,274.74 L555.8,281.65 M557.91,287.91 L558.74,290.37 M560.84,296.63 L563.16,303.55 M565.25,309.81 L566.07,312.28 M568.15,318.54 L570.43,325.47 M572.49,331.74 L573.3,334.22 M575.35,340.49 L577.61,347.43 M579.64,353.71 L580.44,356.18 M582.47,362.47 L584.7,369.42 M586.7,375.7 L587.49,378.18 M589.49,384.47 L591.7,391.43 M593.68,397.73 L594.46,400.21 M596.44,406.5 L598.61,413.47 M600.57,419.77 L601.34,422.26 M603.3,428.56 L605.45,435.54 M607.39,441.85 L608.15,444.33 M610.08,450.64 L612.21,457.63 M614.12,463.94 L614.88,466.43 M616.78,472.75 L618.89,479.74 M620.78,486.06 L621.53,488.55 M623.42,494.88 L625.5,501.87 M627.37,508.2 L628.11,510.69 M629.98,517.02 L632.04,524.03 M633.89,530.36 L634.62,532.86 M636.47,539.19 L638.51,546.2 M640.35,552.54 L641.07,555.04 M642.9,561.38 L644.91,568.4" stroke="#4c4200" stroke-width="1" fill="none" />
</g>
<g clip-path="url(#plot)" fill="none" stroke-linejoin="round" stroke-linecap="butt">
<path d="M61.1,88.9 L85,103.5 L111,118.2 L146,139.6 L184.5,161.5 L210,181.5 L230,196 L260,216.5 L270,223.1 L282.5,232.5 L298.1,241.25 L298.6,246 L311.25,256.5 L327,270.6 L348.6,289.8 L368.8,310 L390.6,329.2 L402,342.8 L409.6,351.5 L422.5,365 L436.25,380.6 L447.5,393.75 L457.5,408.75 L465.6,420 L473.75,431.9 L481.25,443.1 L491.25,455 L501.25,466.25 L510,475 L516.25,482.5 L521.5,488 L528.75,495.5 L537.5,505.5 L545,514.9 L545.6,523 L547.5,535.5 L548.1,548 L549.2,554.9 L556,555.6 L566.2,557.2" stroke="#004010" stroke-width="2.2"/>
<path d="M91.75,72.6 L111,88.9 L125,101.1 L160,125.9 L195,151 L210,162.5 L235,180 L260,198.75 L281.25,215 L303.75,230 L317.5,240.6 L318.1,245 L327.5,252.5 L345,270 L361.9,285 L378.75,300.6 L387.5,310 L405,328.1 L411.25,335 L421.9,349.5 L432.5,362.5 L446.25,380 L460,398.1 L472.5,412.5 L480.6,420 L491.25,431.25 L503.1,443.1 L506.9,450 L509.4,457.5 L516.25,467.5 L525,478.75 L533.1,488 L543.75,501.75 L553.75,514.9 L560,528 L567.5,540.5 L568.1,546.75 L567.5,554.6 L573.4,557.4" stroke="#b80000" stroke-width="2.3"/>
<path d="M61.1,86.25 L111,117.75 L160,148.4 L184.5,164 L210,183.75 L230,198.75 L260,219 L270,225.6 L282.5,235 L298.75,247.5 L311.25,257.5 L327.5,270 L351.25,289.2 L360.6,299.4 L375,311.9 L392.5,328.1 L403.75,340 L413.75,350 L426.25,363.75 L440,380 L453.75,398.1 L462.5,407.5 L472.5,420 L482.5,432.5 L492.5,445 L502.5,458.75 L510,470 L516.8,481.25 L520.6,488 L532.5,504.25 L543.75,524.25 L550,529.25 L567.5,541.75 L587.5,556.75" stroke="#0000b0" stroke-width="2.4"/>
</g>
<g clip-path="url(#barbclip)" shape-rendering="crispEdges" fill="none">
<path d="M689,174.5 L703.09,187.25 M685.84,176.62 L699.94,189.36 M689.5,182.5 L703.78,195.03 M631,409 L616.45,396.78 M634.07,406.77 L619.52,394.55 M630.8,419.3 L616.23,407.1 M633.87,417.06 L619.3,404.87 M659.5,408.4 L633.1,432 M659.5,419.4 L633,442 M659.5,429.3 L632.5,452.5 M659.5,452 L632.5,475.6 M630.6,482 L616.33,469.46 M633.72,479.84 L619.45,467.29 M689.5,515.25 L703.84,527.72 M686.39,517.43 L693.56,523.66" stroke="#000" stroke-width="0.75" fill="none" />
<path d="M659.5,203.3 L689.5,182.5 M659.5,388.3 L631,409 M659.5,398.4 L630.8,419.3 M633,442 L617.54,430.96 M635.89,439.53 L620.43,428.49 M632.5,452.5 L617,441.51 M635.38,450.02 L619.88,439.04 M632.5,475.6 L616.91,464.74 M635.36,473.1 L619.77,462.24 M659.5,462 L630.6,482 M659.5,536.25 L689.5,515.25" stroke="#000" stroke-width="0.8" fill="none" />
<path d="M659.5,94.5 L690.4,112.9 M659.5,194.3 L689,174.5 M647.5,268 L663.31,257.46 M648.78,271.58 L664.59,261.03 M650.06,275.15 L657.97,269.88 M633.1,432 L617.39,421.32 M635.93,429.47 L620.22,418.79 M659.5,525 L677.5,494.4 M659.5,557.8 L690.5,575.5" stroke="#000" stroke-width="0.85" fill="none" />
<path d="M695.5,142.5 L703.3,159.83 M691.76,143.18 L699.56,160.5 M688.02,143.85 L695.82,161.18 M684.28,144.53 L692.08,161.85 M694,146.5 L703.1,163.18 M690.32,147.46 L699.42,164.14 M686.65,148.42 L695.75,165.1 M682.97,149.38 L692.07,166.06 M625,374 L617.46,356.56 M628.75,373.38 L621.21,355.94 M659.5,514.1 L675.6,481.25" stroke="#000" stroke-width="0.9" fill="none" />
<path d="M682.41,108.14 L676.93,126.33 M659.5,155.5 L694,146.5 M695.5,231.5 L701.51,249.52 M659.5,250.5 L669.5,215.5 M659.5,301.5 L647.5,268 M659.5,348.3 L626,335 M659.5,356.3 L625.5,347.5 M659.5,483.1 L669.4,447.5 M659.5,493.3 L669.4,458.75 M659.5,504.4 L673,470.25 M677.5,494.4 L695.72,499.79 M675.57,497.68 L693.79,503.06 M690.5,575.5 L685.35,593.79 M687.2,573.62 L684.63,582.76" stroke="#000" stroke-width="0.95" fill="none" />
<path d="M654,94.5 L665,94.5 M659.5,89 L659.5,100 M654,108.5 L665,108.5 M659.5,103 L659.5,114 M659.5,108.5 L696,111 M686.72,110.36 L688.38,119.72 M654,149 L665,149 M659.5,143.5 L659.5,154.5 M659.5,149 L695.5,142.5 M654,155.5 L665,155.5 M659.5,150 L659.5,161 M654,194.3 L665,194.3 M659.5,188.8 L659.5,199.8 M654,203.3 L665,203.3 M659.5,197.8 L659.5,208.8 M654,234.3 L665,234.3 M659.5,228.8 L659.5,239.8 M659.5,234.3 L695.5,231.5 M654,250.5 L665,250.5 M659.5,245 L659.5,256 M669.5,215.5 L688.49,216.14 M654,301.5 L665,301.5 M659.5,296 L659.5,307 M654,348.3 L665,348.3 M659.5,342.8 L659.5,353.8 M626,335 L628.53,316.17 M629.53,336.4 L632.06,317.57 M654,356.3 L665,356.3 M659.5,350.8 L659.5,361.8 M625.5,347.5 L625.67,328.5 M629.18,348.45 L629.35,329.45 M654,368.3 L665,368.3 M659.5,362.8 L659.5,373.8 M659.5,368.3 L625,374 M654,388.3 L665,388.3 M659.5,382.8 L659.5,393.8 M654,398.4 L665,398.4 M659.5,392.9 L659.5,403.9 M654,408.4 L665,408.4 M659.5,402.9 L659.5,413.9 M654,419.4 L665,419.4 M659.5,413.9 L659.5,424.9 M654,429.3 L665,429.3 M659.5,423.8 L659.5,434.8 M654,452 L665,452 M659.5,446.5 L659.5,457.5 M654,462 L665,462 M659.5,456.5 L659.5,467.5 M654,471.25 L665,471.25 M659.5,465.75 L659.5,476.75 M659.5,471.25 L662.5,436.25 M662.18,440.04 L671.56,438.53 M654,483.1 L665,483.1 M659.5,477.6 L659.5,488.6 M669.4,447.5 L688.39,448.01 M654,493.3 L665,493.3 M659.5,487.8 L659.5,498.8 M669.4,458.75 L688.39,459.41 M668.35,462.4 L677.85,462.73 M654,504.4 L665,504.4 M659.5,498.9 L659.5,509.9 M673,470.25 L691.83,472.75 M671.6,473.78 L681.02,475.04 M654,514.1 L665,514.1 M659.5,508.6 L659.5,519.6 M675.6,481.25 L694.18,485.24 M673.93,484.66 L692.5,488.65 M654,525 L665,525 M659.5,519.5 L659.5,530.5 M654,536.25 L665,536.25 M659.5,530.75 L659.5,541.75 M654,546.8 L665,546.8 M659.5,541.3 L659.5,552.3 M659.5,546.8 L695.5,550.5 M695.5,550.5 L698.19,569.31 M691.72,550.11 L693.06,559.52 M654,557.8 L665,557.8 M659.5,552.3 L659.5,563.3" stroke="#000" stroke-width="1" fill="none" />
<path d="M690.4,112.9 L685.67,110.09 L680.19,128.28 Z M696,111 L690.51,110.62 L693.84,129.33 Z" fill="#000" stroke="#000" stroke-width="0.6"/>
</g>
<g shape-rendering="crispEdges">
<path d="M33.05,19.27 L34.34,17.52" stroke="#0000aa" stroke-width="0.8" fill="none" stroke-linecap="square"/>
<path d="M32.19,19.86 L33.05,19.27" stroke="#0000aa" stroke-width="0.85" fill="none" stroke-linecap="square"/>
<path d="M40.36,17.52 L39.07,18.1 M39.07,18.1 L38.21,19.86 M38.21,27.46 L39.07,29.21 M39.07,29.21 L40.36,29.8 M41.22,29.8 L42.51,29.21 M42.51,29.21 L43.37,27.46 M43.37,19.86 L42.51,18.1 M42.51,18.1 L41.22,17.52 M48.96,17.52 L47.67,18.1 M47.67,18.1 L46.81,19.86 M46.81,27.46 L47.67,29.21 M47.67,29.21 L48.96,29.8 M49.82,29.8 L51.11,29.21 M51.11,29.21 L51.97,27.46 M51.97,19.86 L51.11,18.1 M51.11,18.1 L49.82,17.52" stroke="#0000aa" stroke-width="0.9" fill="none" stroke-linecap="square"/>
<path d="M34.34,17.52 L34.34,29.8 M38.21,19.86 L37.78,22.78 M37.78,22.78 L37.78,24.54 M37.78,24.54 L38.21,27.46 M40.36,29.8 L41.22,29.8 M43.37,27.46 L43.8,24.54 M43.8,24.54 L43.8,22.78 M43.8,22.78 L43.37,19.86 M41.22,17.52 L40.36,17.52 M46.81,19.86 L46.38,22.78 M46.38,22.78 L46.38,24.54 M46.38,24.54 L46.81,27.46 M48.96,29.8 L49.82,29.8 M51.97,27.46 L52.4,24.54 M52.4,24.54 L52.4,22.78 M52.4,22.78 L51.97,19.86 M49.82,17.52 L48.96,17.52" stroke="#0000aa" stroke-width="1" fill="none" stroke-linecap="square"/>
</g>
<g shape-rendering="crispEdges">
<path d="M30.04,143.69 L30.47,143.1 M33.91,143.1 L34.34,143.69 M33.48,148.95 L29.18,154.8" stroke="#0000aa" stroke-width="0.8" fill="none" stroke-linecap="square"/>
<path d="M30.47,143.1 L31.33,142.52 M33.05,142.52 L33.91,143.1" stroke="#0000aa" stroke-width="0.85" fill="none" stroke-linecap="square"/>
<path d="M34.34,147.2 L33.48,148.95 M40.36,142.52 L39.07,143.1 M39.07,143.1 L38.21,144.86 M38.21,152.46 L39.07,154.22 M39.07,154.22 L40.36,154.8 M41.22,154.8 L42.51,154.22 M42.51,154.22 L43.37,152.46 M43.37,144.86 L42.51,143.1 M42.51,143.1 L41.22,142.52 M48.96,142.52 L47.67,143.1 M47.67,143.1 L46.81,144.86 M46.81,152.46 L47.67,154.22 M47.67,154.22 L48.96,154.8 M49.82,154.8 L51.11,154.22 M51.11,154.22 L51.97,152.46 M51.97,144.86 L51.11,143.1 M51.11,143.1 L49.82,142.52" stroke="#0000aa" stroke-width="0.9" fill="none" stroke-linecap="square"/>
<path d="M29.61,144.86 L30.04,143.69 M34.34,143.69 L34.77,144.86 M34.77,146.03 L34.34,147.2" stroke="#0000aa" stroke-width="0.95" fill="none" stroke-linecap="square"/>
<path d="M29.61,145.44 L29.61,144.86 M31.33,142.52 L33.05,142.52 M34.77,144.86 L34.77,146.03 M29.18,154.8 L35.2,154.8 M38.21,144.86 L37.78,147.78 M37.78,147.78 L37.78,149.54 M37.78,149.54 L38.21,152.46 M40.36,154.8 L41.22,154.8 M43.37,152.46 L43.8,149.54 M43.8,149.54 L43.8,147.78 M43.8,147.78 L43.37,144.86 M41.22,142.52 L40.36,142.52 M46.81,144.86 L46.38,147.78 M46.38,147.78 L46.38,149.54 M46.38,149.54 L46.81,152.46 M48.96,154.8 L49.82,154.8 M51.97,152.46 L52.4,149.54 M52.4,149.54 L52.4,147.78 M52.4,147.78 L51.97,144.86 M49.82,142.52 L48.96,142.52" stroke="#0000aa" stroke-width="1" fill="none" stroke-linecap="square"/>
</g>
<g shape-rendering="crispEdges">
<path d="M34.34,232.78 L34.77,233.37 M34.77,238.05 L33.91,239.22 M30.04,239.22 L29.61,238.63" stroke="#0000aa" stroke-width="0.8" fill="none" stroke-linecap="square"/>
<path d="M33.48,232.2 L34.34,232.78" stroke="#0000aa" stroke-width="0.85" fill="none" stroke-linecap="square"/>
<path d="M34.77,227.52 L32.19,232.2 M33.91,239.22 L32.62,239.8 M31.33,239.8 L30.04,239.22 M40.36,227.52 L39.07,228.1 M39.07,228.1 L38.21,229.86 M38.21,237.46 L39.07,239.22 M39.07,239.22 L40.36,239.8 M41.22,239.8 L42.51,239.22 M42.51,239.22 L43.37,237.46 M43.37,229.86 L42.51,228.1 M42.51,228.1 L41.22,227.52 M48.96,227.52 L47.67,228.1 M47.67,228.1 L46.81,229.86 M46.81,237.46 L47.67,239.22 M47.67,239.22 L48.96,239.8 M49.82,239.8 L51.11,239.22 M51.11,239.22 L51.97,237.46 M51.97,229.86 L51.11,228.1 M51.11,228.1 L49.82,227.52" stroke="#0000aa" stroke-width="0.9" fill="none" stroke-linecap="square"/>
<path d="M34.77,233.37 L35.2,235.12 M35.2,236.29 L34.77,238.05 M29.61,238.63 L29.18,237.46" stroke="#0000aa" stroke-width="0.95" fill="none" stroke-linecap="square"/>
<path d="M30.04,227.52 L34.77,227.52 M32.19,232.2 L33.48,232.2 M35.2,235.12 L35.2,236.29 M32.62,239.8 L31.33,239.8 M38.21,229.86 L37.78,232.78 M37.78,232.78 L37.78,234.54 M37.78,234.54 L38.21,237.46 M40.36,239.8 L41.22,239.8 M43.37,237.46 L43.8,234.54 M43.8,234.54 L43.8,232.78 M43.8,232.78 L43.37,229.86 M41.22,227.52 L40.36,227.52 M46.81,229.86 L46.38,232.78 M46.38,232.78 L46.38,234.54 M46.38,234.54 L46.81,237.46 M48.96,239.8 L49.82,239.8 M51.97,237.46 L52.4,234.54 M52.4,234.54 L52.4,232.78 M52.4,232.78 L51.97,229.86 M49.82,227.52 L48.96,227.52" stroke="#0000aa" stroke-width="1" fill="none" stroke-linecap="square"/>
</g>
<g shape-rendering="crispEdges">
<path d="M33.48,294.51 L29.18,302.7 M40.36,294.51 L39.07,295.1 M39.07,295.1 L38.21,296.86 M38.21,304.46 L39.07,306.22 M39.07,306.22 L40.36,306.8 M41.22,306.8 L42.51,306.22 M42.51,306.22 L43.37,304.46 M43.37,296.86 L42.51,295.1 M42.51,295.1 L41.22,294.51 M48.96,294.51 L47.67,295.1 M47.67,295.1 L46.81,296.86 M46.81,304.46 L47.67,306.22 M47.67,306.22 L48.96,306.8 M49.82,306.8 L51.11,306.22 M51.11,306.22 L51.97,304.46 M51.97,296.86 L51.11,295.1 M51.11,295.1 L49.82,294.51" stroke="#0000aa" stroke-width="0.9" fill="none" stroke-linecap="square"/>
<path d="M29.18,302.7 L35.63,302.7 M33.48,294.51 L33.48,306.8 M38.21,296.86 L37.78,299.78 M37.78,299.78 L37.78,301.54 M37.78,301.54 L38.21,304.46 M40.36,306.8 L41.22,306.8 M43.37,304.46 L43.8,301.54 M43.8,301.54 L43.8,299.78 M43.8,299.78 L43.37,296.86 M41.22,294.51 L40.36,294.51 M46.81,296.86 L46.38,299.78 M46.38,299.78 L46.38,301.54 M46.38,301.54 L46.81,304.46 M48.96,306.8 L49.82,306.8 M51.97,304.46 L52.4,301.54 M52.4,301.54 L52.4,299.78 M52.4,299.78 L51.97,296.86 M49.82,294.51 L48.96,294.51" stroke="#0000aa" stroke-width="1" fill="none" stroke-linecap="square"/>
</g>
<g shape-rendering="crispEdges">
<path d="M29.61,354.78 L30.04,354.19 M33.91,354.19 L34.77,355.37 M34.77,360.05 L33.91,361.22 M30.04,361.22 L29.61,360.63" stroke="#0000aa" stroke-width="0.8" fill="none" stroke-linecap="square"/>
<path d="M30.04,354.19 L31.33,353.61 M32.62,353.61 L33.91,354.19 M33.91,361.22 L32.62,361.8 M31.33,361.8 L30.04,361.22 M40.36,349.51 L39.07,350.1 M39.07,350.1 L38.21,351.86 M38.21,359.46 L39.07,361.22 M39.07,361.22 L40.36,361.8 M41.22,361.8 L42.51,361.22 M42.51,361.22 L43.37,359.46 M43.37,351.86 L42.51,350.1 M42.51,350.1 L41.22,349.51 M48.96,349.51 L47.67,350.1 M47.67,350.1 L46.81,351.86 M46.81,359.46 L47.67,361.22 M47.67,361.22 L48.96,361.8 M49.82,361.8 L51.11,361.22 M51.11,361.22 L51.97,359.46 M51.97,351.86 L51.11,350.1 M51.11,350.1 L49.82,349.51" stroke="#0000aa" stroke-width="0.9" fill="none" stroke-linecap="square"/>
<path d="M34.77,355.37 L35.2,357.12 M35.2,358.29 L34.77,360.05 M29.61,360.63 L29.18,359.46" stroke="#0000aa" stroke-width="0.95" fill="none" stroke-linecap="square"/>
<path d="M34.34,349.51 L30.04,349.51 M30.04,349.51 L29.61,354.78 M31.33,353.61 L32.62,353.61 M35.2,357.12 L35.2,358.29 M32.62,361.8 L31.33,361.8 M38.21,351.86 L37.78,354.78 M37.78,354.78 L37.78,356.54 M37.78,356.54 L38.21,359.46 M40.36,361.8 L41.22,361.8 M43.37,359.46 L43.8,356.54 M43.8,356.54 L43.8,354.78 M43.8,354.78 L43.37,351.86 M41.22,349.51 L40.36,349.51 M46.81,351.86 L46.38,354.78 M46.38,354.78 L46.38,356.54 M46.38,356.54 L46.81,359.46 M48.96,361.8 L49.82,361.8 M51.97,359.46 L52.4,356.54 M52.4,356.54 L52.4,354.78 M52.4,354.78 L51.97,351.86 M49.82,349.51 L48.96,349.51" stroke="#0000aa" stroke-width="1" fill="none" stroke-linecap="square"/>
</g>
<g shape-rendering="crispEdges">
<path d="M30.04,408.05 L30.9,409.22 M33.91,409.22 L34.77,408.05 M34.77,403.95 L33.91,402.78 M30.9,402.78 L30.04,403.95" stroke="#0000aa" stroke-width="0.8" fill="none" stroke-linecap="square"/>
<path d="M34.34,398.1 L33.05,397.51 M32.19,397.51 L30.9,398.1 M30.9,398.1 L30.04,399.86 M30.9,409.22 L32.19,409.8 M32.62,409.8 L33.91,409.22 M33.91,402.78 L32.62,402.19 M32.19,402.19 L30.9,402.78 M40.36,397.51 L39.07,398.1 M39.07,398.1 L38.21,399.86 M38.21,407.46 L39.07,409.22 M39.07,409.22 L40.36,409.8 M41.22,409.8 L42.51,409.22 M42.51,409.22 L43.37,407.46 M43.37,399.86 L42.51,398.1 M42.51,398.1 L41.22,397.51 M48.96,397.51 L47.67,398.1 M47.67,398.1 L46.81,399.86 M46.81,407.46 L47.67,409.22 M47.67,409.22 L48.96,409.8 M49.82,409.8 L51.11,409.22 M51.11,409.22 L51.97,407.46 M51.97,399.86 L51.11,398.1 M51.11,398.1 L49.82,397.51" stroke="#0000aa" stroke-width="0.9" fill="none" stroke-linecap="square"/>
<path d="M34.77,399.27 L34.34,398.1 M34.77,408.05 L35.2,406.29 M35.2,405.7 L34.77,403.95 M30.04,403.95 L29.61,405.7" stroke="#0000aa" stroke-width="0.95" fill="none" stroke-linecap="square"/>
<path d="M33.05,397.51 L32.19,397.51 M30.04,399.86 L29.61,402.78 M29.61,402.78 L29.61,405.7 M29.61,405.7 L30.04,408.05 M32.19,409.8 L32.62,409.8 M35.2,406.29 L35.2,405.7 M32.62,402.19 L32.19,402.19 M38.21,399.86 L37.78,402.78 M37.78,402.78 L37.78,404.54 M37.78,404.54 L38.21,407.46 M40.36,409.8 L41.22,409.8 M43.37,407.46 L43.8,404.54 M43.8,404.54 L43.8,402.78 M43.8,402.78 L43.37,399.86 M41.22,397.51 L40.36,397.51 M46.81,399.86 L46.38,402.78 M46.38,402.78 L46.38,404.54 M46.38,404.54 L46.81,407.46 M48.96,409.8 L49.82,409.8 M51.97,407.46 L52.4,404.54 M52.4,404.54 L52.4,402.78 M52.4,402.78 L51.97,399.86 M49.82,397.51 L48.96,397.51" stroke="#0000aa" stroke-width="1" fill="none" stroke-linecap="square"/>
</g>
<g shape-rendering="crispEdges">
<path d="M40.36,440.51 L39.07,441.1 M39.07,441.1 L38.21,442.86 M38.21,450.46 L39.07,452.22 M39.07,452.22 L40.36,452.8 M41.22,452.8 L42.51,452.22 M42.51,452.22 L43.37,450.46 M43.37,442.86 L42.51,441.1 M42.51,441.1 L41.22,440.51 M48.96,440.51 L47.67,441.1 M47.67,441.1 L46.81,442.86 M46.81,450.46 L47.67,452.22 M47.67,452.22 L48.96,452.8 M49.82,452.8 L51.11,452.22 M51.11,452.22 L51.97,450.46 M51.97,442.86 L51.11,441.1 M51.11,441.1 L49.82,440.51" stroke="#0000aa" stroke-width="0.9" fill="none" stroke-linecap="square"/>
<path d="M35.2,440.51 L30.9,452.8" stroke="#0000aa" stroke-width="0.95" fill="none" stroke-linecap="square"/>
<path d="M29.18,440.51 L35.2,440.51 M38.21,442.86 L37.78,445.78 M37.78,445.78 L37.78,447.54 M37.78,447.54 L38.21,450.46 M40.36,452.8 L41.22,452.8 M43.37,450.46 L43.8,447.54 M43.8,447.54 L43.8,445.78 M43.8,445.78 L43.37,442.86 M41.22,440.51 L40.36,440.51 M46.81,442.86 L46.38,445.78 M46.38,445.78 L46.38,447.54 M46.38,447.54 L46.81,450.46 M48.96,452.8 L49.82,452.8 M51.97,450.46 L52.4,447.54 M52.4,447.54 L52.4,445.78 M52.4,445.78 L51.97,442.86 M49.82,440.51 L48.96,440.51" stroke="#0000aa" stroke-width="1" fill="none" stroke-linecap="square"/>
</g>
<g shape-rendering="crispEdges">
<path d="M33.91,485.37 L34.77,486.54 M34.77,490.63 L34.34,491.22 M30.04,491.22 L29.61,490.63 M29.61,486.54 L30.47,485.37" stroke="#0000aa" stroke-width="0.8" fill="none" stroke-linecap="square"/>
<path d="M30.04,483.61 L30.9,484.19 M33.48,484.19 L34.34,483.61" stroke="#0000aa" stroke-width="0.85" fill="none" stroke-linecap="square"/>
<path d="M31.33,479.51 L30.04,480.1 M32.62,484.78 L33.91,485.37 M34.34,491.22 L33.05,491.8 M31.33,491.8 L30.04,491.22 M30.47,485.37 L31.76,484.78 M34.34,480.1 L33.05,479.51 M40.36,479.51 L39.07,480.1 M39.07,480.1 L38.21,481.86 M38.21,489.46 L39.07,491.22 M39.07,491.22 L40.36,491.8 M41.22,491.8 L42.51,491.22 M42.51,491.22 L43.37,489.46 M43.37,481.86 L42.51,480.1 M42.51,480.1 L41.22,479.51 M48.96,479.51 L47.67,480.1 M47.67,480.1 L46.81,481.86 M46.81,489.46 L47.67,491.22 M47.67,491.22 L48.96,491.8 M49.82,491.8 L51.11,491.22 M51.11,491.22 L51.97,489.46 M51.97,481.86 L51.11,480.1 M51.11,480.1 L49.82,479.51" stroke="#0000aa" stroke-width="0.9" fill="none" stroke-linecap="square"/>
<path d="M30.04,480.1 L29.61,481.27 M29.61,482.44 L30.04,483.61 M30.9,484.19 L32.62,484.78 M34.77,486.54 L35.2,487.7 M35.2,489.46 L34.77,490.63 M29.61,490.63 L29.18,489.46 M29.18,487.7 L29.61,486.54 M31.76,484.78 L33.48,484.19 M34.34,483.61 L34.77,482.44 M34.77,481.27 L34.34,480.1" stroke="#0000aa" stroke-width="0.95" fill="none" stroke-linecap="square"/>
<path d="M29.61,481.27 L29.61,482.44 M35.2,487.7 L35.2,489.46 M33.05,491.8 L31.33,491.8 M29.18,489.46 L29.18,487.7 M34.77,482.44 L34.77,481.27 M33.05,479.51 L31.33,479.51 M38.21,481.86 L37.78,484.78 M37.78,484.78 L37.78,486.54 M37.78,486.54 L38.21,489.46 M40.36,491.8 L41.22,491.8 M43.37,489.46 L43.8,486.54 M43.8,486.54 L43.8,484.78 M43.8,484.78 L43.37,481.86 M41.22,479.51 L40.36,479.51 M46.81,481.86 L46.38,484.78 M46.38,484.78 L46.38,486.54 M46.38,486.54 L46.81,489.46 M48.96,491.8 L49.82,491.8 M51.97,489.46 L52.4,486.54 M52.4,486.54 L52.4,484.78 M52.4,484.78 L51.97,481.86 M49.82,479.51 L48.96,479.51" stroke="#0000aa" stroke-width="1" fill="none" stroke-linecap="square"/>
</g>
<g shape-rendering="crispEdges">
<path d="M34.34,520.37 L33.48,521.53 M30.47,521.53 L29.61,520.37 M29.61,516.27 L30.47,515.1 M33.48,515.1 L34.34,516.27" stroke="#0000aa" stroke-width="0.8" fill="none" stroke-linecap="square"/>
<path d="M33.48,521.53 L32.19,522.12 M31.76,522.12 L30.47,521.53 M30.47,515.1 L31.76,514.51 M32.19,514.51 L33.48,515.1 M34.34,524.46 L33.48,526.21 M33.48,526.21 L32.19,526.8 M31.33,526.8 L30.04,526.21 M40.36,514.51 L39.07,515.1 M39.07,515.1 L38.21,516.85 M38.21,524.46 L39.07,526.21 M39.07,526.21 L40.36,526.8 M41.22,526.8 L42.51,526.21 M42.51,526.21 L43.37,524.46 M43.37,516.85 L42.51,515.1 M42.51,515.1 L41.22,514.51 M48.96,514.51 L47.67,515.1 M47.67,515.1 L46.81,516.85 M46.81,524.46 L47.67,526.21 M47.67,526.21 L48.96,526.8 M49.82,526.8 L51.11,526.21 M51.11,526.21 L51.97,524.46 M51.97,516.85 L51.11,515.1 M51.11,515.1 L49.82,514.51" stroke="#0000aa" stroke-width="0.9" fill="none" stroke-linecap="square"/>
<path d="M34.77,518.61 L34.34,520.37 M29.61,520.37 L29.18,518.61 M29.18,518.02 L29.61,516.27 M30.04,526.21 L29.61,525.04" stroke="#0000aa" stroke-width="0.95" fill="none" stroke-linecap="square"/>
<path d="M32.19,522.12 L31.76,522.12 M29.18,518.61 L29.18,518.02 M31.76,514.51 L32.19,514.51 M34.34,516.27 L34.77,518.61 M34.77,518.61 L34.77,521.53 M34.77,521.53 L34.34,524.46 M32.19,526.8 L31.33,526.8 M38.21,516.85 L37.78,519.78 M37.78,519.78 L37.78,521.53 M37.78,521.53 L38.21,524.46 M40.36,526.8 L41.22,526.8 M43.37,524.46 L43.8,521.53 M43.8,521.53 L43.8,519.78 M43.8,519.78 L43.37,516.85 M41.22,514.51 L40.36,514.51 M46.81,516.85 L46.38,519.78 M46.38,519.78 L46.38,521.53 M46.38,521.53 L46.81,524.46 M48.96,526.8 L49.82,526.8 M51.97,524.46 L52.4,521.53 M52.4,521.53 L52.4,519.78 M52.4,519.78 L51.97,516.85 M49.82,514.51 L48.96,514.51" stroke="#0000aa" stroke-width="1" fill="none" stroke-linecap="square"/>
</g>
<g shape-rendering="crispEdges">
<path d="M24.45,549.27 L25.74,547.51" stroke="#0000aa" stroke-width="0.8" fill="none" stroke-linecap="square"/>
<path d="M23.59,549.85 L24.45,549.27" stroke="#0000aa" stroke-width="0.85" fill="none" stroke-linecap="square"/>
<path d="M31.76,547.51 L30.47,548.1 M30.47,548.1 L29.61,549.85 M29.61,557.46 L30.47,559.21 M30.47,559.21 L31.76,559.8 M32.62,559.8 L33.91,559.21 M33.91,559.21 L34.77,557.46 M34.77,549.85 L33.91,548.1 M33.91,548.1 L32.62,547.51 M40.36,547.51 L39.07,548.1 M39.07,548.1 L38.21,549.85 M38.21,557.46 L39.07,559.21 M39.07,559.21 L40.36,559.8 M41.22,559.8 L42.51,559.21 M42.51,559.21 L43.37,557.46 M43.37,549.85 L42.51,548.1 M42.51,548.1 L41.22,547.51 M48.96,547.51 L47.67,548.1 M47.67,548.1 L46.81,549.85 M46.81,557.46 L47.67,559.21 M47.67,559.21 L48.96,559.8 M49.82,559.8 L51.11,559.21 M51.11,559.21 L51.97,557.46 M51.97,549.85 L51.11,548.1 M51.11,548.1 L49.82,547.51" stroke="#0000aa" stroke-width="0.9" fill="none" stroke-linecap="square"/>
<path d="M25.74,547.51 L25.74,559.8 M29.61,549.85 L29.18,552.78 M29.18,552.78 L29.18,554.53 M29.18,554.53 L29.61,557.46 M31.76,559.8 L32.62,559.8 M34.77,557.46 L35.2,554.53 M35.2,554.53 L35.2,552.78 M35.2,552.78 L34.77,549.85 M32.62,547.51 L31.76,547.51 M38.21,549.85 L37.78,552.78 M37.78,552.78 L37.78,554.53 M37.78,554.53 L38.21,557.46 M40.36,559.8 L41.22,559.8 M43.37,557.46 L43.8,554.53 M43.8,554.53 L43.8,552.78 M43.8,552.78 L43.37,549.85 M41.22,547.51 L40.36,547.51 M46.81,549.85 L46.38,552.78 M46.38,552.78 L46.38,554.53 M46.38,554.53 L46.81,557.46 M48.96,559.8 L49.82,559.8 M51.97,557.46 L52.4,554.53 M52.4,554.53 L52.4,552.78 M52.4,552.78 L51.97,549.85 M49.82,547.51 L48.96,547.51" stroke="#0000aa" stroke-width="1" fill="none" stroke-linecap="square"/>
</g>
<g shape-rendering="crispEdges">
<path d="M34.26,577.6 L35.58,575.89 M39.1,577.6 L40.42,575.89 M47.46,577.03 L48.34,575.89 M51.42,575.89 L52.3,577.03 M52.3,581.59 L51.42,582.73 M48.34,582.73 L47.46,581.59" stroke="#0000aa" stroke-width="0.8" fill="none" stroke-linecap="square"/>
<path d="M35.58,575.89 L36.46,575.32 M37.78,575.32 L38.66,575.89 M40.42,575.89 L41.3,575.32 M42.62,575.32 L43.5,575.89 M48.34,575.89 L49.22,575.32 M50.54,575.32 L51.42,575.89 M51.42,582.73 L50.54,583.3 M49.22,583.3 L48.34,582.73" stroke="#0000aa" stroke-width="0.85" fill="none" stroke-linecap="square"/>
<path d="M38.66,575.89 L39.1,577.6 M43.5,575.89 L43.94,577.6 M52.3,577.03 L52.74,578.74 M52.74,579.88 L52.3,581.59" stroke="#0000aa" stroke-width="0.95" fill="none" stroke-linecap="square"/>
<path d="M34.26,575.32 L34.26,583.3 M36.46,575.32 L37.78,575.32 M39.1,577.6 L39.1,583.3 M41.3,575.32 L42.62,575.32 M43.94,577.6 L43.94,583.3 M47.46,571.33 L47.46,583.3 M49.22,575.32 L50.54,575.32 M52.74,578.74 L52.74,579.88 M50.54,583.3 L49.22,583.3" stroke="#0000aa" stroke-width="1" fill="none" stroke-linecap="square"/>
</g>
<g shape-rendering="crispEdges">
<path d="M64.13,576.72 L65.26,577.84 M65.26,581.78 L64.7,582.34 M59.08,582.34 L58.51,581.78 M58.51,577.84 L59.64,576.72" stroke="#0000aa" stroke-width="0.7" fill="none" stroke-linecap="square"/>
<path d="M70.88,571.66 L69.75,573.35 M69.75,580.65 L70.88,582.34 M75.37,582.34 L76.5,580.65 M76.5,573.35 L75.37,571.66" stroke="#0000aa" stroke-width="0.85" fill="none" stroke-linecap="square"/>
<path d="M59.08,571.66 L58.51,572.78 M58.51,573.91 L59.08,575.03 M59.08,575.03 L60.2,575.59 M65.26,577.84 L65.82,578.97 M65.82,580.65 L65.26,581.78 M58.51,581.78 L57.95,580.65 M57.95,578.97 L58.51,577.84 M63.57,575.59 L64.7,575.03 M64.7,575.03 L65.26,573.91 M65.26,572.78 L64.7,571.66" stroke="#0000aa" stroke-width="0.9" fill="none" stroke-linecap="square"/>
<path d="M60.76,571.1 L59.08,571.66 M60.2,575.59 L62.45,576.16 M62.45,576.16 L64.13,576.72 M64.7,582.34 L63.01,582.9 M60.76,582.9 L59.08,582.34 M59.64,576.72 L61.32,576.16 M61.32,576.16 L63.57,575.59 M64.7,571.66 L63.01,571.1 M72.56,571.1 L70.88,571.66 M70.88,582.34 L72.56,582.9 M73.69,582.9 L75.37,582.34 M75.37,571.66 L73.69,571.1" stroke="#0000aa" stroke-width="0.95" fill="none" stroke-linecap="square"/>
<path d="M43.9,577.84 L54.02,577.84 M58.51,572.78 L58.51,573.91 M65.82,578.97 L65.82,580.65 M63.01,582.9 L60.76,582.9 M57.95,580.65 L57.95,578.97 M65.26,573.91 L65.26,572.78 M63.01,571.1 L60.76,571.1 M69.75,573.35 L69.19,576.16 M69.19,576.16 L69.19,577.84 M69.19,577.84 L69.75,580.65 M72.56,582.9 L73.69,582.9 M76.5,580.65 L77.06,577.84 M77.06,577.84 L77.06,576.16 M77.06,576.16 L76.5,573.35 M73.69,571.1 L72.56,571.1" stroke="#0000aa" stroke-width="1" fill="none" stroke-linecap="square"/>
</g>
<g shape-rendering="crispEdges">
<path d="M120.79,571.66 L119.67,573.35 M119.67,580.65 L120.79,582.34 M125.29,582.34 L126.41,580.65 M126.41,573.35 L125.29,571.66" stroke="#0000aa" stroke-width="0.85" fill="none" stroke-linecap="square"/>
<path d="M115.74,571.1 L110.12,582.9" stroke="#0000aa" stroke-width="0.9" fill="none" stroke-linecap="square"/>
<path d="M122.48,571.1 L120.79,571.66 M120.79,582.34 L122.48,582.9 M123.6,582.9 L125.29,582.34 M125.29,571.66 L123.6,571.1" stroke="#0000aa" stroke-width="0.95" fill="none" stroke-linecap="square"/>
<path d="M93.82,577.84 L103.93,577.84 M107.87,571.1 L115.74,571.1 M119.67,573.35 L119.11,576.16 M119.11,576.16 L119.11,577.84 M119.11,577.84 L119.67,580.65 M122.48,582.9 L123.6,582.9 M126.41,580.65 L126.98,577.84 M126.98,577.84 L126.98,576.16 M126.98,576.16 L126.41,573.35 M123.6,571.1 L122.48,571.1" stroke="#0000aa" stroke-width="1" fill="none" stroke-linecap="square"/>
</g>
<g shape-rendering="crispEdges">
<path d="M158.91,581.21 L160.03,582.34 M163.97,582.34 L165.09,581.21 M165.09,577.28 L163.97,576.16 M160.03,576.16 L158.91,577.28" stroke="#0000aa" stroke-width="0.7" fill="none" stroke-linecap="square"/>
<path d="M160.03,571.66 L158.91,573.35 M170.71,571.66 L169.59,573.35 M169.59,580.65 L170.71,582.34 M175.21,582.34 L176.33,580.65 M176.33,573.35 L175.21,571.66" stroke="#0000aa" stroke-width="0.85" fill="none" stroke-linecap="square"/>
<path d="M165.09,572.78 L164.53,571.66" stroke="#0000aa" stroke-width="0.9" fill="none" stroke-linecap="square"/>
<path d="M164.53,571.66 L162.84,571.1 M161.72,571.1 L160.03,571.66 M158.35,578.97 L158.91,581.21 M160.03,582.34 L161.72,582.9 M162.28,582.9 L163.97,582.34 M165.09,581.21 L165.65,579.53 M165.65,578.97 L165.09,577.28 M163.97,576.16 L162.28,575.59 M161.72,575.59 L160.03,576.16 M158.91,577.28 L158.35,578.97 M172.4,571.1 L170.71,571.66 M170.71,582.34 L172.4,582.9 M173.52,582.9 L175.21,582.34 M175.21,571.66 L173.52,571.1" stroke="#0000aa" stroke-width="0.95" fill="none" stroke-linecap="square"/>
<path d="M143.74,577.84 L153.85,577.84 M162.84,571.1 L161.72,571.1 M158.91,573.35 L158.35,576.16 M158.35,576.16 L158.35,578.97 M161.72,582.9 L162.28,582.9 M165.65,579.53 L165.65,578.97 M162.28,575.59 L161.72,575.59 M169.59,573.35 L169.03,576.16 M169.03,576.16 L169.03,577.84 M169.03,577.84 L169.59,580.65 M172.4,582.9 L173.52,582.9 M176.33,580.65 L176.89,577.84 M176.89,577.84 L176.89,576.16 M176.89,576.16 L176.33,573.35 M173.52,571.1 L172.4,571.1" stroke="#0000aa" stroke-width="1" fill="none" stroke-linecap="square"/>
</g>
<g shape-rendering="crispEdges">
<path d="M208.26,576.16 L208.83,575.59 M213.88,575.59 L215.01,576.72 M215.01,581.21 L213.88,582.34 M208.83,582.34 L208.26,581.78" stroke="#0000aa" stroke-width="0.7" fill="none" stroke-linecap="square"/>
<path d="M220.63,571.66 L219.5,573.35 M219.5,580.65 L220.63,582.34 M225.12,582.34 L226.25,580.65 M226.25,573.35 L225.12,571.66" stroke="#0000aa" stroke-width="0.85" fill="none" stroke-linecap="square"/>
<path d="M208.26,581.78 L207.7,580.65" stroke="#0000aa" stroke-width="0.9" fill="none" stroke-linecap="square"/>
<path d="M208.83,575.59 L210.51,575.03 M212.2,575.03 L213.88,575.59 M215.01,576.72 L215.57,578.4 M215.57,579.53 L215.01,581.21 M213.88,582.34 L212.2,582.9 M210.51,582.9 L208.83,582.34 M222.31,571.1 L220.63,571.66 M220.63,582.34 L222.31,582.9 M223.44,582.9 L225.12,582.34 M225.12,571.66 L223.44,571.1" stroke="#0000aa" stroke-width="0.95" fill="none" stroke-linecap="square"/>
<path d="M193.65,577.84 L203.77,577.84 M214.45,571.1 L208.83,571.1 M208.83,571.1 L208.26,576.16 M210.51,575.03 L212.2,575.03 M215.57,578.4 L215.57,579.53 M212.2,582.9 L210.51,582.9 M219.5,573.35 L218.94,576.16 M218.94,576.16 L218.94,577.84 M218.94,577.84 L219.5,580.65 M222.31,582.9 L223.44,582.9 M226.25,580.65 L226.81,577.84 M226.81,577.84 L226.81,576.16 M226.81,576.16 L226.25,573.35 M223.44,571.1 L222.31,571.1" stroke="#0000aa" stroke-width="1" fill="none" stroke-linecap="square"/>
</g>
<g shape-rendering="crispEdges">
<path d="M263.24,571.1 L257.62,578.97" stroke="#0000aa" stroke-width="0.8" fill="none" stroke-linecap="square"/>
<path d="M270.54,571.66 L269.42,573.35 M269.42,580.65 L270.54,582.34 M275.04,582.34 L276.16,580.65 M276.16,573.35 L275.04,571.66" stroke="#0000aa" stroke-width="0.85" fill="none" stroke-linecap="square"/>
<path d="M272.23,571.1 L270.54,571.66 M270.54,582.34 L272.23,582.9 M273.35,582.9 L275.04,582.34 M275.04,571.66 L273.35,571.1" stroke="#0000aa" stroke-width="0.95" fill="none" stroke-linecap="square"/>
<path d="M243.57,577.84 L253.68,577.84 M257.62,578.97 L266.05,578.97 M263.24,571.1 L263.24,582.9 M269.42,573.35 L268.86,576.16 M268.86,576.16 L268.86,577.84 M268.86,577.84 L269.42,580.65 M272.23,582.9 L273.35,582.9 M276.16,580.65 L276.73,577.84 M276.73,577.84 L276.73,576.16 M276.73,576.16 L276.16,573.35 M273.35,571.1 L272.23,571.1" stroke="#0000aa" stroke-width="1" fill="none" stroke-linecap="square"/>
</g>
<g shape-rendering="crispEdges">
<path d="M314.28,576.16 L314.84,576.72 M314.84,581.21 L313.72,582.34 M308.66,582.34 L308.1,581.78" stroke="#0000aa" stroke-width="0.7" fill="none" stroke-linecap="square"/>
<path d="M314.84,571.1 L311.47,575.59" stroke="#0000aa" stroke-width="0.8" fill="none" stroke-linecap="square"/>
<path d="M320.46,571.66 L319.34,573.35 M319.34,580.65 L320.46,582.34 M324.96,582.34 L326.08,580.65 M326.08,573.35 L324.96,571.66" stroke="#0000aa" stroke-width="0.85" fill="none" stroke-linecap="square"/>
<path d="M313.16,575.59 L314.28,576.16 M308.1,581.78 L307.54,580.65" stroke="#0000aa" stroke-width="0.9" fill="none" stroke-linecap="square"/>
<path d="M314.84,576.72 L315.4,578.4 M315.4,579.53 L314.84,581.21 M313.72,582.34 L312.03,582.9 M310.35,582.9 L308.66,582.34 M322.15,571.1 L320.46,571.66 M320.46,582.34 L322.15,582.9 M323.27,582.9 L324.96,582.34 M324.96,571.66 L323.27,571.1" stroke="#0000aa" stroke-width="0.95" fill="none" stroke-linecap="square"/>
<path d="M293.49,577.84 L303.6,577.84 M308.66,571.1 L314.84,571.1 M311.47,575.59 L313.16,575.59 M315.4,578.4 L315.4,579.53 M312.03,582.9 L310.35,582.9 M319.34,573.35 L318.78,576.16 M318.78,576.16 L318.78,577.84 M318.78,577.84 L319.34,580.65 M322.15,582.9 L323.27,582.9 M326.08,580.65 L326.64,577.84 M326.64,577.84 L326.64,576.16 M326.64,576.16 L326.08,573.35 M323.27,571.1 L322.15,571.1" stroke="#0000aa" stroke-width="1" fill="none" stroke-linecap="square"/>
</g>
<g shape-rendering="crispEdges">
<path d="M358.58,572.22 L359.14,571.66 M363.63,571.66 L364.2,572.22 M363.07,577.28 L357.45,582.9" stroke="#0000aa" stroke-width="0.7" fill="none" stroke-linecap="square"/>
<path d="M364.2,575.59 L363.07,577.28 M370.38,571.66 L369.25,573.35 M369.25,580.65 L370.38,582.34 M374.87,582.34 L376,580.65 M376,573.35 L374.87,571.66" stroke="#0000aa" stroke-width="0.85" fill="none" stroke-linecap="square"/>
<path d="M358.01,573.35 L358.58,572.22 M359.14,571.66 L360.26,571.1 M362.51,571.1 L363.63,571.66 M364.2,572.22 L364.76,573.35 M364.76,574.47 L364.2,575.59" stroke="#0000aa" stroke-width="0.9" fill="none" stroke-linecap="square"/>
<path d="M372.06,571.1 L370.38,571.66 M370.38,582.34 L372.06,582.9 M373.19,582.9 L374.87,582.34 M374.87,571.66 L373.19,571.1" stroke="#0000aa" stroke-width="0.95" fill="none" stroke-linecap="square"/>
<path d="M343.4,577.84 L353.52,577.84 M358.01,573.91 L358.01,573.35 M360.26,571.1 L362.51,571.1 M364.76,573.35 L364.76,574.47 M357.45,582.9 L365.32,582.9 M369.25,573.35 L368.69,576.16 M368.69,576.16 L368.69,577.84 M368.69,577.84 L369.25,580.65 M372.06,582.9 L373.19,582.9 M376,580.65 L376.56,577.84 M376.56,577.84 L376.56,576.16 M376.56,576.16 L376,573.35 M373.19,571.1 L372.06,571.1" stroke="#0000aa" stroke-width="1" fill="none" stroke-linecap="square"/>
</g>
<g shape-rendering="crispEdges">
<path d="M410.46,572.78 L412.15,571.1" stroke="#0000aa" stroke-width="0.7" fill="none" stroke-linecap="square"/>
<path d="M418.33,571.66 L417.2,573.35 M417.2,580.65 L418.33,582.34 M422.82,582.34 L423.95,580.65 M423.95,573.35 L422.82,571.66" stroke="#0000aa" stroke-width="0.85" fill="none" stroke-linecap="square"/>
<path d="M409.34,573.35 L410.46,572.78" stroke="#0000aa" stroke-width="0.9" fill="none" stroke-linecap="square"/>
<path d="M420.01,571.1 L418.33,571.66 M418.33,582.34 L420.01,582.9 M421.14,582.9 L422.82,582.34 M422.82,571.66 L421.14,571.1" stroke="#0000aa" stroke-width="0.95" fill="none" stroke-linecap="square"/>
<path d="M395.29,577.84 L405.4,577.84 M412.15,571.1 L412.15,582.9 M417.2,573.35 L416.64,576.16 M416.64,576.16 L416.64,577.84 M416.64,577.84 L417.2,580.65 M420.01,582.9 L421.14,582.9 M423.95,580.65 L424.51,577.84 M424.51,577.84 L424.51,576.16 M424.51,576.16 L423.95,573.35 M421.14,571.1 L420.01,571.1" stroke="#0000aa" stroke-width="1" fill="none" stroke-linecap="square"/>
</g>
<g shape-rendering="crispEdges">
<path d="M464.48,571.66 L463.35,573.35 M463.35,580.65 L464.48,582.34 M468.97,582.34 L470.1,580.65 M470.1,573.35 L468.97,571.66" stroke="#0000aa" stroke-width="0.85" fill="none" stroke-linecap="square"/>
<path d="M466.16,571.1 L464.48,571.66 M464.48,582.34 L466.16,582.9 M467.29,582.9 L468.97,582.34 M468.97,571.66 L467.29,571.1" stroke="#0000aa" stroke-width="0.95" fill="none" stroke-linecap="square"/>
<path d="M463.35,573.35 L462.79,576.16 M462.79,576.16 L462.79,577.84 M462.79,577.84 L463.35,580.65 M466.16,582.9 L467.29,582.9 M470.1,580.65 L470.66,577.84 M470.66,577.84 L470.66,576.16 M470.66,576.16 L470.1,573.35 M467.29,571.1 L466.16,571.1" stroke="#0000aa" stroke-width="1" fill="none" stroke-linecap="square"/>
</g>
<g shape-rendering="crispEdges">
<path d="M507.48,572.78 L509.17,571.1" stroke="#0000aa" stroke-width="0.7" fill="none" stroke-linecap="square"/>
<path d="M515.35,571.66 L514.23,573.35 M514.23,580.65 L515.35,582.34 M519.85,582.34 L520.97,580.65 M520.97,573.35 L519.85,571.66" stroke="#0000aa" stroke-width="0.85" fill="none" stroke-linecap="square"/>
<path d="M506.36,573.35 L507.48,572.78" stroke="#0000aa" stroke-width="0.9" fill="none" stroke-linecap="square"/>
<path d="M517.04,571.1 L515.35,571.66 M515.35,582.34 L517.04,582.9 M518.16,582.9 L519.85,582.34 M519.85,571.66 L518.16,571.1" stroke="#0000aa" stroke-width="0.95" fill="none" stroke-linecap="square"/>
<path d="M509.17,571.1 L509.17,582.9 M514.23,573.35 L513.66,576.16 M513.66,576.16 L513.66,577.84 M513.66,577.84 L514.23,580.65 M517.04,582.9 L518.16,582.9 M520.97,580.65 L521.53,577.84 M521.53,577.84 L521.53,576.16 M521.53,576.16 L520.97,573.35 M518.16,571.1 L517.04,571.1" stroke="#0000aa" stroke-width="1" fill="none" stroke-linecap="square"/>
</g>
<g shape-rendering="crispEdges">
<path d="M555.43,572.22 L555.99,571.66 M560.49,571.66 L561.05,572.22 M559.93,577.28 L554.31,582.9" stroke="#0000aa" stroke-width="0.7" fill="none" stroke-linecap="square"/>
<path d="M561.05,575.59 L559.93,577.28 M567.23,571.66 L566.11,573.35 M566.11,580.65 L567.23,582.34 M571.73,582.34 L572.85,580.65 M572.85,573.35 L571.73,571.66" stroke="#0000aa" stroke-width="0.85" fill="none" stroke-linecap="square"/>
<path d="M554.87,573.35 L555.43,572.22 M555.99,571.66 L557.12,571.1 M559.37,571.1 L560.49,571.66 M561.05,572.22 L561.61,573.35 M561.61,574.47 L561.05,575.59" stroke="#0000aa" stroke-width="0.9" fill="none" stroke-linecap="square"/>
<path d="M568.92,571.1 L567.23,571.66 M567.23,582.34 L568.92,582.9 M570.04,582.9 L571.73,582.34 M571.73,571.66 L570.04,571.1" stroke="#0000aa" stroke-width="0.95" fill="none" stroke-linecap="square"/>
<path d="M554.87,573.91 L554.87,573.35 M557.12,571.1 L559.37,571.1 M561.61,573.35 L561.61,574.47 M554.31,582.9 L562.18,582.9 M566.11,573.35 L565.55,576.16 M565.55,576.16 L565.55,577.84 M565.55,577.84 L566.11,580.65 M568.92,582.9 L570.04,582.9 M572.85,580.65 L573.42,577.84 M573.42,577.84 L573.42,576.16 M573.42,576.16 L572.85,573.35 M570.04,571.1 L568.92,571.1" stroke="#0000aa" stroke-width="1" fill="none" stroke-linecap="square"/>
</g>
<g shape-rendering="crispEdges">
<path d="M610.97,576.16 L611.53,576.72 M611.53,581.21 L610.41,582.34 M605.35,582.34 L604.79,581.78" stroke="#0000aa" stroke-width="0.7" fill="none" stroke-linecap="square"/>
<path d="M611.53,571.1 L608.16,575.59" stroke="#0000aa" stroke-width="0.8" fill="none" stroke-linecap="square"/>
<path d="M617.15,571.66 L616.03,573.35 M616.03,580.65 L617.15,582.34 M621.65,582.34 L622.77,580.65 M622.77,573.35 L621.65,571.66" stroke="#0000aa" stroke-width="0.85" fill="none" stroke-linecap="square"/>
<path d="M609.85,575.59 L610.97,576.16 M604.79,581.78 L604.23,580.65" stroke="#0000aa" stroke-width="0.9" fill="none" stroke-linecap="square"/>
<path d="M611.53,576.72 L612.09,578.4 M612.09,579.53 L611.53,581.21 M610.41,582.34 L608.72,582.9 M607.04,582.9 L605.35,582.34 M618.84,571.1 L617.15,571.66 M617.15,582.34 L618.84,582.9 M619.96,582.9 L621.65,582.34 M621.65,571.66 L619.96,571.1" stroke="#0000aa" stroke-width="0.95" fill="none" stroke-linecap="square"/>
<path d="M605.35,571.1 L611.53,571.1 M608.16,575.59 L609.85,575.59 M612.09,578.4 L612.09,579.53 M608.72,582.9 L607.04,582.9 M616.03,573.35 L615.47,576.16 M615.47,576.16 L615.47,577.84 M615.47,577.84 L616.03,580.65 M618.84,582.9 L619.96,582.9 M622.77,580.65 L623.33,577.84 M623.33,577.84 L623.33,576.16 M623.33,576.16 L622.77,573.35 M619.96,571.1 L618.84,571.1" stroke="#0000aa" stroke-width="1" fill="none" stroke-linecap="square"/>
</g>
<g shape-rendering="crispEdges">
<path d="M663.45,573.08 L662.33,571.96 M657.83,571.96 L656.71,573.08 M656.71,581.51 L657.83,582.64 M662.33,582.64 L663.45,581.51" stroke="#0000aa" stroke-width="0.7" fill="none" stroke-linecap="square"/>
<path d="M664.02,574.21 L663.45,573.08 M662.33,571.96 L661.21,571.4 M658.96,571.4 L657.83,571.96 M656.71,573.08 L656.15,574.21 M656.15,580.39 L656.71,581.51 M657.83,582.64 L658.96,583.2 M661.21,583.2 L662.33,582.64 M663.45,581.51 L664.02,580.39" stroke="#0000aa" stroke-width="0.9" fill="none" stroke-linecap="square"/>
<path d="M656.15,574.21 L655.59,575.89 M655.59,578.7 L656.15,580.39" stroke="#0000aa" stroke-width="0.95" fill="none" stroke-linecap="square"/>
<path d="M661.21,571.4 L658.96,571.4 M655.59,575.89 L655.59,578.7 M658.96,583.2 L661.21,583.2" stroke="#0000aa" stroke-width="1" fill="none" stroke-linecap="square"/>
</g>
<g shape-rendering="crispEdges">
<path d="M69.12,90.5 L70.4,89.15 M83.15,90.05 L83.58,89.6 M86.98,89.6 L87.4,90.05 M86.55,94.1 L82.3,98.6 M112.9,94.1 L114.17,92.75 M117.58,94.1 L118.85,92.75" stroke="#000" stroke-width="0.75" fill="none" stroke-linecap="square"/>
<path d="M78.05,89.15 L73.8,95.45 M87.4,92.75 L86.55,94.1 M92.08,89.6 L91.23,90.95 M91.23,96.8 L92.08,98.15 M95.48,98.15 L96.33,96.8 M96.33,90.95 L95.48,89.6 M100.58,89.6 L99.73,90.95 M99.73,96.8 L100.58,98.15 M103.98,98.15 L104.83,96.8 M104.83,90.95 L103.98,89.6" stroke="#000" stroke-width="0.85" fill="none" stroke-linecap="square"/>
<path d="M68.28,90.95 L69.12,90.5 M82.73,90.95 L83.15,90.05 M83.58,89.6 L84.43,89.15 M86.12,89.15 L86.98,89.6 M87.4,90.05 L87.83,90.95 M87.83,91.85 L87.4,92.75 M114.17,92.75 L115.03,92.3 M116.3,92.3 L117.15,92.75 M118.85,92.75 L119.7,92.3 M120.98,92.3 L121.83,92.75" stroke="#000" stroke-width="0.9" fill="none" stroke-linecap="square"/>
<path d="M93.35,89.15 L92.08,89.6 M92.08,98.15 L93.35,98.6 M94.2,98.6 L95.48,98.15 M95.48,89.6 L94.2,89.15 M101.85,89.15 L100.58,89.6 M100.58,98.15 L101.85,98.6 M102.7,98.6 L103.98,98.15 M103.98,89.6 L102.7,89.15 M117.15,92.75 L117.58,94.1 M121.83,92.75 L122.25,94.1" stroke="#000" stroke-width="0.95" fill="none" stroke-linecap="square"/>
<path d="M70.4,89.15 L70.4,98.6 M73.8,95.45 L80.18,95.45 M78.05,89.15 L78.05,98.6 M82.73,91.4 L82.73,90.95 M84.43,89.15 L86.12,89.15 M87.83,90.95 L87.83,91.85 M82.3,98.6 L88.25,98.6 M91.23,90.95 L90.8,93.2 M90.8,93.2 L90.8,94.55 M90.8,94.55 L91.23,96.8 M93.35,98.6 L94.2,98.6 M96.33,96.8 L96.75,94.55 M96.75,94.55 L96.75,93.2 M96.75,93.2 L96.33,90.95 M94.2,89.15 L93.35,89.15 M99.73,90.95 L99.3,93.2 M99.3,93.2 L99.3,94.55 M99.3,94.55 L99.73,96.8 M101.85,98.6 L102.7,98.6 M104.83,96.8 L105.25,94.55 M105.25,94.55 L105.25,93.2 M105.25,93.2 L104.83,90.95 M102.7,89.15 L101.85,89.15 M112.9,92.3 L112.9,98.6 M115.03,92.3 L116.3,92.3 M117.58,94.1 L117.58,98.6 M119.7,92.3 L120.98,92.3 M122.25,94.1 L122.25,98.6" stroke="#000" stroke-width="1" fill="none" stroke-linecap="square"/>
</g>
<g shape-rendering="crispEdges">
<path d="M69.12,145.5 L70.4,144.15 M74.65,145.05 L75.08,144.6 M78.48,144.6 L78.9,145.05 M78.05,149.1 L73.8,153.6 M91.65,145.05 L92.08,144.6 M95.48,144.6 L95.9,145.05 M95.05,149.1 L90.8,153.6 M112.9,149.1 L114.17,147.75 M117.58,149.1 L118.85,147.75" stroke="#000" stroke-width="0.75" fill="none" stroke-linecap="square"/>
<path d="M78.9,147.75 L78.05,149.1 M86.55,144.15 L82.3,150.45 M95.9,147.75 L95.05,149.1 M100.58,144.6 L99.73,145.95 M99.73,151.8 L100.58,153.15 M103.98,153.15 L104.83,151.8 M104.83,145.95 L103.98,144.6" stroke="#000" stroke-width="0.85" fill="none" stroke-linecap="square"/>
<path d="M68.28,145.95 L69.12,145.5 M74.23,145.95 L74.65,145.05 M75.08,144.6 L75.93,144.15 M77.62,144.15 L78.48,144.6 M78.9,145.05 L79.33,145.95 M79.33,146.85 L78.9,147.75 M91.23,145.95 L91.65,145.05 M92.08,144.6 L92.93,144.15 M94.62,144.15 L95.48,144.6 M95.9,145.05 L96.33,145.95 M96.33,146.85 L95.9,147.75 M114.17,147.75 L115.03,147.3 M116.3,147.3 L117.15,147.75 M118.85,147.75 L119.7,147.3 M120.98,147.3 L121.83,147.75" stroke="#000" stroke-width="0.9" fill="none" stroke-linecap="square"/>
<path d="M101.85,144.15 L100.58,144.6 M100.58,153.15 L101.85,153.6 M102.7,153.6 L103.98,153.15 M103.98,144.6 L102.7,144.15 M117.15,147.75 L117.58,149.1 M121.83,147.75 L122.25,149.1" stroke="#000" stroke-width="0.95" fill="none" stroke-linecap="square"/>
<path d="M70.4,144.15 L70.4,153.6 M74.23,146.4 L74.23,145.95 M75.93,144.15 L77.62,144.15 M79.33,145.95 L79.33,146.85 M73.8,153.6 L79.75,153.6 M82.3,150.45 L88.68,150.45 M86.55,144.15 L86.55,153.6 M91.23,146.4 L91.23,145.95 M92.93,144.15 L94.62,144.15 M96.33,145.95 L96.33,146.85 M90.8,153.6 L96.75,153.6 M99.73,145.95 L99.3,148.2 M99.3,148.2 L99.3,149.55 M99.3,149.55 L99.73,151.8 M101.85,153.6 L102.7,153.6 M104.83,151.8 L105.25,149.55 M105.25,149.55 L105.25,148.2 M105.25,148.2 L104.83,145.95 M102.7,144.15 L101.85,144.15 M112.9,147.3 L112.9,153.6 M115.03,147.3 L116.3,147.3 M117.58,149.1 L117.58,153.6 M119.7,147.3 L120.98,147.3 M122.25,149.1 L122.25,153.6" stroke="#000" stroke-width="1" fill="none" stroke-linecap="square"/>
</g>
<g shape-rendering="crispEdges">
<path d="M69.12,190.5 L70.4,189.15 M87.4,193.65 L86.55,194.55 M83.58,194.55 L82.73,193.65 M82.73,190.5 L83.58,189.6 M86.55,189.6 L87.4,190.5 M112.9,194.1 L114.17,192.75 M117.58,194.1 L118.85,192.75" stroke="#000" stroke-width="0.75" fill="none" stroke-linecap="square"/>
<path d="M75.08,189.6 L74.23,190.95 M74.23,196.8 L75.08,198.15 M78.48,198.15 L79.33,196.8 M79.33,190.95 L78.48,189.6 M87.4,196.8 L86.55,198.15 M95.05,189.15 L90.8,195.45 M100.58,189.6 L99.73,190.95 M99.73,196.8 L100.58,198.15 M103.98,198.15 L104.83,196.8 M104.83,190.95 L103.98,189.6" stroke="#000" stroke-width="0.85" fill="none" stroke-linecap="square"/>
<path d="M68.28,190.95 L69.12,190.5 M83.15,198.15 L82.73,197.25 M114.17,192.75 L115.03,192.3 M116.3,192.3 L117.15,192.75 M118.85,192.75 L119.7,192.3 M120.98,192.3 L121.83,192.75" stroke="#000" stroke-width="0.9" fill="none" stroke-linecap="square"/>
<path d="M76.35,189.15 L75.08,189.6 M75.08,198.15 L76.35,198.6 M77.2,198.6 L78.48,198.15 M78.48,189.6 L77.2,189.15 M87.83,192.3 L87.4,193.65 M86.55,194.55 L85.28,195 M84.85,195 L83.58,194.55 M82.73,193.65 L82.3,192.3 M82.3,191.85 L82.73,190.5 M83.58,189.6 L84.85,189.15 M85.28,189.15 L86.55,189.6 M87.4,190.5 L87.83,192.3 M86.55,198.15 L85.28,198.6 M84.43,198.6 L83.15,198.15 M101.85,189.15 L100.58,189.6 M100.58,198.15 L101.85,198.6 M102.7,198.6 L103.98,198.15 M103.98,189.6 L102.7,189.15 M117.15,192.75 L117.58,194.1 M121.83,192.75 L122.25,194.1" stroke="#000" stroke-width="0.95" fill="none" stroke-linecap="square"/>
<path d="M70.4,189.15 L70.4,198.6 M74.23,190.95 L73.8,193.2 M73.8,193.2 L73.8,194.55 M73.8,194.55 L74.23,196.8 M76.35,198.6 L77.2,198.6 M79.33,196.8 L79.75,194.55 M79.75,194.55 L79.75,193.2 M79.75,193.2 L79.33,190.95 M77.2,189.15 L76.35,189.15 M85.28,195 L84.85,195 M82.3,192.3 L82.3,191.85 M84.85,189.15 L85.28,189.15 M87.83,192.3 L87.83,194.55 M87.83,194.55 L87.4,196.8 M85.28,198.6 L84.43,198.6 M90.8,195.45 L97.18,195.45 M95.05,189.15 L95.05,198.6 M99.73,190.95 L99.3,193.2 M99.3,193.2 L99.3,194.55 M99.3,194.55 L99.73,196.8 M101.85,198.6 L102.7,198.6 M104.83,196.8 L105.25,194.55 M105.25,194.55 L105.25,193.2 M105.25,193.2 L104.83,190.95 M102.7,189.15 L101.85,189.15 M112.9,192.3 L112.9,198.6 M115.03,192.3 L116.3,192.3 M117.58,194.1 L117.58,198.6 M119.7,192.3 L120.98,192.3 M122.25,194.1 L122.25,198.6" stroke="#000" stroke-width="1" fill="none" stroke-linecap="square"/>
</g>
<g shape-rendering="crispEdges">
<path d="M73.38,233.65 L72.53,234.55 M69.55,234.55 L68.7,233.65 M68.7,230.5 L69.55,229.6 M72.53,229.6 L73.38,230.5 M77.62,237.25 L78.47,238.15 M81.45,238.15 L82.3,237.25 M82.3,234.1 L81.45,233.2 M78.47,233.2 L77.62,234.1 M107.38,234.1 L108.65,232.75 M112.05,234.1 L113.33,232.75" stroke="#000" stroke-width="0.75" fill="none" stroke-linecap="square"/>
<path d="M73.38,236.8 L72.53,238.15 M78.47,229.6 L77.62,230.95 M95.05,229.6 L94.2,230.95 M94.2,236.8 L95.05,238.15 M98.45,238.15 L99.3,236.8 M99.3,230.95 L98.45,229.6" stroke="#000" stroke-width="0.85" fill="none" stroke-linecap="square"/>
<path d="M69.12,238.15 L68.7,237.25 M82.3,230.5 L81.88,229.6 M91.22,229.15 L86.97,238.6 M108.65,232.75 L109.5,232.3 M110.77,232.3 L111.62,232.75 M113.33,232.75 L114.17,232.3 M115.45,232.3 L116.3,232.75" stroke="#000" stroke-width="0.9" fill="none" stroke-linecap="square"/>
<path d="M73.8,232.3 L73.38,233.65 M72.53,234.55 L71.25,235 M70.83,235 L69.55,234.55 M68.7,233.65 L68.28,232.3 M68.28,231.85 L68.7,230.5 M69.55,229.6 L70.83,229.15 M71.25,229.15 L72.53,229.6 M73.38,230.5 L73.8,232.3 M72.53,238.15 L71.25,238.6 M70.4,238.6 L69.12,238.15 M81.88,229.6 L80.6,229.15 M79.75,229.15 L78.47,229.6 M77.2,235.45 L77.62,237.25 M78.47,238.15 L79.75,238.6 M80.17,238.6 L81.45,238.15 M82.3,237.25 L82.72,235.9 M82.72,235.45 L82.3,234.1 M81.45,233.2 L80.17,232.75 M79.75,232.75 L78.47,233.2 M77.62,234.1 L77.2,235.45 M96.33,229.15 L95.05,229.6 M95.05,238.15 L96.33,238.6 M97.17,238.6 L98.45,238.15 M98.45,229.6 L97.17,229.15 M111.62,232.75 L112.05,234.1 M116.3,232.75 L116.72,234.1" stroke="#000" stroke-width="0.95" fill="none" stroke-linecap="square"/>
<path d="M71.25,235 L70.83,235 M68.28,232.3 L68.28,231.85 M70.83,229.15 L71.25,229.15 M73.8,232.3 L73.8,234.55 M73.8,234.55 L73.38,236.8 M71.25,238.6 L70.4,238.6 M80.6,229.15 L79.75,229.15 M77.62,230.95 L77.2,233.2 M77.2,233.2 L77.2,235.45 M79.75,238.6 L80.17,238.6 M82.72,235.9 L82.72,235.45 M80.17,232.75 L79.75,232.75 M85.28,229.15 L91.22,229.15 M94.2,230.95 L93.78,233.2 M93.78,233.2 L93.78,234.55 M93.78,234.55 L94.2,236.8 M96.33,238.6 L97.17,238.6 M99.3,236.8 L99.72,234.55 M99.72,234.55 L99.72,233.2 M99.72,233.2 L99.3,230.95 M97.17,229.15 L96.33,229.15 M107.38,232.3 L107.38,238.6 M109.5,232.3 L110.77,232.3 M112.05,234.1 L112.05,238.6 M114.17,232.3 L115.45,232.3 M116.72,234.1 L116.72,238.6" stroke="#000" stroke-width="1" fill="none" stroke-linecap="square"/>
</g>
<g shape-rendering="crispEdges">
<path d="M72.95,268.65 L73.8,269.55 M73.8,272.7 L73.38,273.15 M69.12,273.15 L68.7,272.7 M68.7,269.55 L69.55,268.65 M77.2,268.2 L77.62,267.75 M81.45,267.75 L82.3,268.65 M82.3,272.25 L81.45,273.15 M77.62,273.15 L77.2,272.7 M85.7,268.2 L86.12,267.75 M89.95,267.75 L90.8,268.65 M90.8,272.25 L89.95,273.15 M86.12,273.15 L85.7,272.7 M107.38,269.1 L108.65,267.75 M112.05,269.1 L113.33,267.75" stroke="#000" stroke-width="0.75" fill="none" stroke-linecap="square"/>
<path d="M95.05,264.6 L94.2,265.95 M94.2,271.8 L95.05,273.15 M98.45,273.15 L99.3,271.8 M99.3,265.95 L98.45,264.6" stroke="#000" stroke-width="0.85" fill="none" stroke-linecap="square"/>
<path d="M69.12,264.6 L68.7,265.5 M68.7,266.4 L69.12,267.3 M69.12,267.3 L69.97,267.75 M73.8,269.55 L74.22,270.45 M74.22,271.8 L73.8,272.7 M68.7,272.7 L68.28,271.8 M68.28,270.45 L68.7,269.55 M72.53,267.75 L73.38,267.3 M73.38,267.3 L73.8,266.4 M73.8,265.5 L73.38,264.6 M77.2,272.7 L76.78,271.8 M85.7,272.7 L85.28,271.8 M108.65,267.75 L109.5,267.3 M110.77,267.3 L111.62,267.75 M113.33,267.75 L114.17,267.3 M115.45,267.3 L116.3,267.75" stroke="#000" stroke-width="0.9" fill="none" stroke-linecap="square"/>
<path d="M70.4,264.15 L69.12,264.6 M69.97,267.75 L71.67,268.2 M71.67,268.2 L72.95,268.65 M73.38,273.15 L72.1,273.6 M70.4,273.6 L69.12,273.15 M69.55,268.65 L70.83,268.2 M70.83,268.2 L72.53,267.75 M73.38,264.6 L72.1,264.15 M77.62,267.75 L78.9,267.3 M80.17,267.3 L81.45,267.75 M82.3,268.65 L82.72,270 M82.72,270.9 L82.3,272.25 M81.45,273.15 L80.17,273.6 M78.9,273.6 L77.62,273.15 M86.12,267.75 L87.4,267.3 M88.67,267.3 L89.95,267.75 M90.8,268.65 L91.22,270 M91.22,270.9 L90.8,272.25 M89.95,273.15 L88.67,273.6 M87.4,273.6 L86.12,273.15 M96.33,264.15 L95.05,264.6 M95.05,273.15 L96.33,273.6 M97.17,273.6 L98.45,273.15 M98.45,264.6 L97.17,264.15 M111.62,267.75 L112.05,269.1 M116.3,267.75 L116.72,269.1" stroke="#000" stroke-width="0.95" fill="none" stroke-linecap="square"/>
<path d="M68.7,265.5 L68.7,266.4 M74.22,270.45 L74.22,271.8 M72.1,273.6 L70.4,273.6 M68.28,271.8 L68.28,270.45 M73.8,266.4 L73.8,265.5 M72.1,264.15 L70.4,264.15 M81.88,264.15 L77.62,264.15 M77.62,264.15 L77.2,268.2 M78.9,267.3 L80.17,267.3 M82.72,270 L82.72,270.9 M80.17,273.6 L78.9,273.6 M90.38,264.15 L86.12,264.15 M86.12,264.15 L85.7,268.2 M87.4,267.3 L88.67,267.3 M91.22,270 L91.22,270.9 M88.67,273.6 L87.4,273.6 M94.2,265.95 L93.78,268.2 M93.78,268.2 L93.78,269.55 M93.78,269.55 L94.2,271.8 M96.33,273.6 L97.17,273.6 M99.3,271.8 L99.72,269.55 M99.72,269.55 L99.72,268.2 M99.72,268.2 L99.3,265.95 M97.17,264.15 L96.33,264.15 M107.38,267.3 L107.38,273.6 M109.5,267.3 L110.77,267.3 M112.05,269.1 L112.05,273.6 M114.17,267.3 L115.45,267.3 M116.72,269.1 L116.72,273.6" stroke="#000" stroke-width="1" fill="none" stroke-linecap="square"/>
</g>
<g shape-rendering="crispEdges">
<path d="M77.2,300.2 L77.62,299.75 M81.45,299.75 L82.3,300.65 M82.3,304.25 L81.45,305.15 M77.62,305.15 L77.2,304.7 M107.38,301.1 L108.65,299.75 M112.05,301.1 L113.33,299.75" stroke="#000" stroke-width="0.75" fill="none" stroke-linecap="square"/>
<path d="M95.05,296.6 L94.2,297.95 M94.2,303.8 L95.05,305.15 M98.45,305.15 L99.3,303.8 M99.3,297.95 L98.45,296.6" stroke="#000" stroke-width="0.85" fill="none" stroke-linecap="square"/>
<path d="M74.22,296.15 L69.97,305.6 M77.2,304.7 L76.78,303.8 M91.22,296.15 L86.97,305.6 M108.65,299.75 L109.5,299.3 M110.77,299.3 L111.62,299.75 M113.33,299.75 L114.17,299.3 M115.45,299.3 L116.3,299.75" stroke="#000" stroke-width="0.9" fill="none" stroke-linecap="square"/>
<path d="M77.62,299.75 L78.9,299.3 M80.17,299.3 L81.45,299.75 M82.3,300.65 L82.72,302 M82.72,302.9 L82.3,304.25 M81.45,305.15 L80.17,305.6 M78.9,305.6 L77.62,305.15 M96.33,296.15 L95.05,296.6 M95.05,305.15 L96.33,305.6 M97.17,305.6 L98.45,305.15 M98.45,296.6 L97.17,296.15 M111.62,299.75 L112.05,301.1 M116.3,299.75 L116.72,301.1" stroke="#000" stroke-width="0.95" fill="none" stroke-linecap="square"/>
<path d="M68.28,296.15 L74.22,296.15 M81.88,296.15 L77.62,296.15 M77.62,296.15 L77.2,300.2 M78.9,299.3 L80.17,299.3 M82.72,302 L82.72,302.9 M80.17,305.6 L78.9,305.6 M85.28,296.15 L91.22,296.15 M94.2,297.95 L93.78,300.2 M93.78,300.2 L93.78,301.55 M93.78,301.55 L94.2,303.8 M96.33,305.6 L97.17,305.6 M99.3,303.8 L99.72,301.55 M99.72,301.55 L99.72,300.2 M99.72,300.2 L99.3,297.95 M97.17,296.15 L96.33,296.15 M107.38,299.3 L107.38,305.6 M109.5,299.3 L110.77,299.3 M112.05,301.1 L112.05,305.6 M114.17,299.3 L115.45,299.3 M116.72,301.1 L116.72,305.6" stroke="#000" stroke-width="1" fill="none" stroke-linecap="square"/>
</g>
<g shape-rendering="crispEdges">
<path d="M69.12,332.25 L69.97,333.15 M72.95,333.15 L73.8,332.25 M73.8,329.1 L72.95,328.2 M69.97,328.2 L69.12,329.1 M77.62,332.25 L78.47,333.15 M81.45,333.15 L82.3,332.25 M82.3,329.1 L81.45,328.2 M78.47,328.2 L77.62,329.1 M107.38,329.1 L108.65,327.75 M112.05,329.1 L113.33,327.75" stroke="#000" stroke-width="0.75" fill="none" stroke-linecap="square"/>
<path d="M69.97,324.6 L69.12,325.95 M78.47,324.6 L77.62,325.95 M95.05,324.6 L94.2,325.95 M94.2,331.8 L95.05,333.15 M98.45,333.15 L99.3,331.8 M99.3,325.95 L98.45,324.6" stroke="#000" stroke-width="0.85" fill="none" stroke-linecap="square"/>
<path d="M73.8,325.5 L73.38,324.6 M82.3,325.5 L81.88,324.6 M91.22,324.15 L86.97,333.6 M108.65,327.75 L109.5,327.3 M110.77,327.3 L111.62,327.75 M113.33,327.75 L114.17,327.3 M115.45,327.3 L116.3,327.75" stroke="#000" stroke-width="0.9" fill="none" stroke-linecap="square"/>
<path d="M73.38,324.6 L72.1,324.15 M71.25,324.15 L69.97,324.6 M68.7,330.45 L69.12,332.25 M69.97,333.15 L71.25,333.6 M71.67,333.6 L72.95,333.15 M73.8,332.25 L74.22,330.9 M74.22,330.45 L73.8,329.1 M72.95,328.2 L71.67,327.75 M71.25,327.75 L69.97,328.2 M69.12,329.1 L68.7,330.45 M81.88,324.6 L80.6,324.15 M79.75,324.15 L78.47,324.6 M77.2,330.45 L77.62,332.25 M78.47,333.15 L79.75,333.6 M80.17,333.6 L81.45,333.15 M82.3,332.25 L82.72,330.9 M82.72,330.45 L82.3,329.1 M81.45,328.2 L80.17,327.75 M79.75,327.75 L78.47,328.2 M77.62,329.1 L77.2,330.45 M96.33,324.15 L95.05,324.6 M95.05,333.15 L96.33,333.6 M97.17,333.6 L98.45,333.15 M98.45,324.6 L97.17,324.15 M111.62,327.75 L112.05,329.1 M116.3,327.75 L116.72,329.1" stroke="#000" stroke-width="0.95" fill="none" stroke-linecap="square"/>
<path d="M72.1,324.15 L71.25,324.15 M69.12,325.95 L68.7,328.2 M68.7,328.2 L68.7,330.45 M71.25,333.6 L71.67,333.6 M74.22,330.9 L74.22,330.45 M71.67,327.75 L71.25,327.75 M80.6,324.15 L79.75,324.15 M77.62,325.95 L77.2,328.2 M77.2,328.2 L77.2,330.45 M79.75,333.6 L80.17,333.6 M82.72,330.9 L82.72,330.45 M80.17,327.75 L79.75,327.75 M85.28,324.15 L91.22,324.15 M94.2,325.95 L93.78,328.2 M93.78,328.2 L93.78,329.55 M93.78,329.55 L94.2,331.8 M96.33,333.6 L97.17,333.6 M99.3,331.8 L99.72,329.55 M99.72,329.55 L99.72,328.2 M99.72,328.2 L99.3,325.95 M97.17,324.15 L96.33,324.15 M107.38,327.3 L107.38,333.6 M109.5,327.3 L110.77,327.3 M112.05,329.1 L112.05,333.6 M114.17,327.3 L115.45,327.3 M116.72,329.1 L116.72,333.6" stroke="#000" stroke-width="1" fill="none" stroke-linecap="square"/>
</g>
<g shape-rendering="crispEdges">
<path d="M68.7,355.2 L69.12,354.75 M72.95,354.75 L73.8,355.65 M73.8,359.25 L72.95,360.15 M69.12,360.15 L68.7,359.7 M81.45,355.65 L82.3,356.55 M82.3,359.7 L81.88,360.15 M77.62,360.15 L77.2,359.7 M77.2,356.55 L78.05,355.65 M85.7,355.2 L86.12,354.75 M89.95,354.75 L90.8,355.65 M90.8,359.25 L89.95,360.15 M86.12,360.15 L85.7,359.7 M107.38,356.1 L108.65,354.75 M112.05,356.1 L113.33,354.75" stroke="#000" stroke-width="0.75" fill="none" stroke-linecap="square"/>
<path d="M95.05,351.6 L94.2,352.95 M94.2,358.8 L95.05,360.15 M98.45,360.15 L99.3,358.8 M99.3,352.95 L98.45,351.6" stroke="#000" stroke-width="0.85" fill="none" stroke-linecap="square"/>
<path d="M68.7,359.7 L68.28,358.8 M77.62,351.6 L77.2,352.5 M77.2,353.4 L77.62,354.3 M77.62,354.3 L78.47,354.75 M82.3,356.55 L82.72,357.45 M82.72,358.8 L82.3,359.7 M77.2,359.7 L76.78,358.8 M76.78,357.45 L77.2,356.55 M81.03,354.75 L81.88,354.3 M81.88,354.3 L82.3,353.4 M82.3,352.5 L81.88,351.6 M85.7,359.7 L85.28,358.8 M108.65,354.75 L109.5,354.3 M110.77,354.3 L111.62,354.75 M113.33,354.75 L114.17,354.3 M115.45,354.3 L116.3,354.75" stroke="#000" stroke-width="0.9" fill="none" stroke-linecap="square"/>
<path d="M69.12,354.75 L70.4,354.3 M71.67,354.3 L72.95,354.75 M73.8,355.65 L74.22,357 M74.22,357.9 L73.8,359.25 M72.95,360.15 L71.67,360.6 M70.4,360.6 L69.12,360.15 M78.9,351.15 L77.62,351.6 M78.47,354.75 L80.17,355.2 M80.17,355.2 L81.45,355.65 M81.88,360.15 L80.6,360.6 M78.9,360.6 L77.62,360.15 M78.05,355.65 L79.33,355.2 M79.33,355.2 L81.03,354.75 M81.88,351.6 L80.6,351.15 M86.12,354.75 L87.4,354.3 M88.67,354.3 L89.95,354.75 M90.8,355.65 L91.22,357 M91.22,357.9 L90.8,359.25 M89.95,360.15 L88.67,360.6 M87.4,360.6 L86.12,360.15 M96.33,351.15 L95.05,351.6 M95.05,360.15 L96.33,360.6 M97.17,360.6 L98.45,360.15 M98.45,351.6 L97.17,351.15 M111.62,354.75 L112.05,356.1 M116.3,354.75 L116.72,356.1" stroke="#000" stroke-width="0.95" fill="none" stroke-linecap="square"/>
<path d="M73.38,351.15 L69.12,351.15 M69.12,351.15 L68.7,355.2 M70.4,354.3 L71.67,354.3 M74.22,357 L74.22,357.9 M71.67,360.6 L70.4,360.6 M77.2,352.5 L77.2,353.4 M82.72,357.45 L82.72,358.8 M80.6,360.6 L78.9,360.6 M76.78,358.8 L76.78,357.45 M82.3,353.4 L82.3,352.5 M80.6,351.15 L78.9,351.15 M90.38,351.15 L86.12,351.15 M86.12,351.15 L85.7,355.2 M87.4,354.3 L88.67,354.3 M91.22,357 L91.22,357.9 M88.67,360.6 L87.4,360.6 M94.2,352.95 L93.78,355.2 M93.78,355.2 L93.78,356.55 M93.78,356.55 L94.2,358.8 M96.33,360.6 L97.17,360.6 M99.3,358.8 L99.72,356.55 M99.72,356.55 L99.72,355.2 M99.72,355.2 L99.3,352.95 M97.17,351.15 L96.33,351.15 M107.38,354.3 L107.38,360.6 M109.5,354.3 L110.77,354.3 M112.05,356.1 L112.05,360.6 M114.17,354.3 L115.45,354.3 M116.72,356.1 L116.72,360.6" stroke="#000" stroke-width="1" fill="none" stroke-linecap="square"/>
</g>
<g shape-rendering="crispEdges">
<path d="M68.7,380.2 L69.12,379.75 M72.95,379.75 L73.8,380.65 M73.8,384.25 L72.95,385.15 M69.12,385.15 L68.7,384.7 M90.38,380.65 L89.53,381.55 M86.55,381.55 L85.7,380.65 M85.7,377.5 L86.55,376.6 M89.53,376.6 L90.38,377.5 M98.88,380.65 L98.03,381.55 M95.05,381.55 L94.2,380.65 M94.2,377.5 L95.05,376.6 M98.03,376.6 L98.88,377.5 M107.38,381.1 L108.65,379.75 M112.05,381.1 L113.33,379.75" stroke="#000" stroke-width="0.75" fill="none" stroke-linecap="square"/>
<path d="M78.05,376.6 L77.2,377.95 M77.2,383.8 L78.05,385.15 M81.45,385.15 L82.3,383.8 M82.3,377.95 L81.45,376.6 M90.38,383.8 L89.53,385.15 M98.88,383.8 L98.03,385.15" stroke="#000" stroke-width="0.85" fill="none" stroke-linecap="square"/>
<path d="M68.7,384.7 L68.28,383.8 M86.12,385.15 L85.7,384.25 M94.62,385.15 L94.2,384.25 M108.65,379.75 L109.5,379.3 M110.77,379.3 L111.62,379.75 M113.33,379.75 L114.17,379.3 M115.45,379.3 L116.3,379.75" stroke="#000" stroke-width="0.9" fill="none" stroke-linecap="square"/>
<path d="M69.12,379.75 L70.4,379.3 M71.67,379.3 L72.95,379.75 M73.8,380.65 L74.22,382 M74.22,382.9 L73.8,384.25 M72.95,385.15 L71.67,385.6 M70.4,385.6 L69.12,385.15 M79.33,376.15 L78.05,376.6 M78.05,385.15 L79.33,385.6 M80.17,385.6 L81.45,385.15 M81.45,376.6 L80.17,376.15 M90.8,379.3 L90.38,380.65 M89.53,381.55 L88.25,382 M87.83,382 L86.55,381.55 M85.7,380.65 L85.28,379.3 M85.28,378.85 L85.7,377.5 M86.55,376.6 L87.83,376.15 M88.25,376.15 L89.53,376.6 M90.38,377.5 L90.8,379.3 M89.53,385.15 L88.25,385.6 M87.4,385.6 L86.12,385.15 M99.3,379.3 L98.88,380.65 M98.03,381.55 L96.75,382 M96.33,382 L95.05,381.55 M94.2,380.65 L93.78,379.3 M93.78,378.85 L94.2,377.5 M95.05,376.6 L96.33,376.15 M96.75,376.15 L98.03,376.6 M98.88,377.5 L99.3,379.3 M98.03,385.15 L96.75,385.6 M95.9,385.6 L94.62,385.15 M111.62,379.75 L112.05,381.1 M116.3,379.75 L116.72,381.1" stroke="#000" stroke-width="0.95" fill="none" stroke-linecap="square"/>
<path d="M73.38,376.15 L69.12,376.15 M69.12,376.15 L68.7,380.2 M70.4,379.3 L71.67,379.3 M74.22,382 L74.22,382.9 M71.67,385.6 L70.4,385.6 M77.2,377.95 L76.78,380.2 M76.78,380.2 L76.78,381.55 M76.78,381.55 L77.2,383.8 M79.33,385.6 L80.17,385.6 M82.3,383.8 L82.72,381.55 M82.72,381.55 L82.72,380.2 M82.72,380.2 L82.3,377.95 M80.17,376.15 L79.33,376.15 M88.25,382 L87.83,382 M85.28,379.3 L85.28,378.85 M87.83,376.15 L88.25,376.15 M90.8,379.3 L90.8,381.55 M90.8,381.55 L90.38,383.8 M88.25,385.6 L87.4,385.6 M96.75,382 L96.33,382 M93.78,379.3 L93.78,378.85 M96.33,376.15 L96.75,376.15 M99.3,379.3 L99.3,381.55 M99.3,381.55 L98.88,383.8 M96.75,385.6 L95.9,385.6 M107.38,379.3 L107.38,385.6 M109.5,379.3 L110.77,379.3 M112.05,381.1 L112.05,385.6 M114.17,379.3 L115.45,379.3 M116.72,381.1 L116.72,385.6" stroke="#000" stroke-width="1" fill="none" stroke-linecap="square"/>
</g>
<g shape-rendering="crispEdges">
<path d="M94.2,403.2 L94.62,402.75 M98.45,402.75 L99.3,403.65 M99.3,407.25 L98.45,408.15 M94.62,408.15 L94.2,407.7 M107.38,404.1 L108.65,402.75 M112.05,404.1 L113.33,402.75" stroke="#000" stroke-width="0.75" fill="none" stroke-linecap="square"/>
<path d="M72.53,399.15 L68.28,405.45 M81.03,399.15 L76.78,405.45 M86.55,399.6 L85.7,400.95 M85.7,406.8 L86.55,408.15 M89.95,408.15 L90.8,406.8 M90.8,400.95 L89.95,399.6" stroke="#000" stroke-width="0.85" fill="none" stroke-linecap="square"/>
<path d="M94.2,407.7 L93.78,406.8 M108.65,402.75 L109.5,402.3 M110.77,402.3 L111.62,402.75 M113.33,402.75 L114.17,402.3 M115.45,402.3 L116.3,402.75" stroke="#000" stroke-width="0.9" fill="none" stroke-linecap="square"/>
<path d="M87.83,399.15 L86.55,399.6 M86.55,408.15 L87.83,408.6 M88.67,408.6 L89.95,408.15 M89.95,399.6 L88.67,399.15 M94.62,402.75 L95.9,402.3 M97.17,402.3 L98.45,402.75 M99.3,403.65 L99.72,405 M99.72,405.9 L99.3,407.25 M98.45,408.15 L97.17,408.6 M95.9,408.6 L94.62,408.15 M111.62,402.75 L112.05,404.1 M116.3,402.75 L116.72,404.1" stroke="#000" stroke-width="0.95" fill="none" stroke-linecap="square"/>
<path d="M68.28,405.45 L74.65,405.45 M72.53,399.15 L72.53,408.6 M76.78,405.45 L83.15,405.45 M81.03,399.15 L81.03,408.6 M85.7,400.95 L85.28,403.2 M85.28,403.2 L85.28,404.55 M85.28,404.55 L85.7,406.8 M87.83,408.6 L88.67,408.6 M90.8,406.8 L91.22,404.55 M91.22,404.55 L91.22,403.2 M91.22,403.2 L90.8,400.95 M88.67,399.15 L87.83,399.15 M98.88,399.15 L94.62,399.15 M94.62,399.15 L94.2,403.2 M95.9,402.3 L97.17,402.3 M99.72,405 L99.72,405.9 M97.17,408.6 L95.9,408.6 M107.38,402.3 L107.38,408.6 M109.5,402.3 L110.77,402.3 M112.05,404.1 L112.05,408.6 M114.17,402.3 L115.45,402.3 M116.72,404.1 L116.72,408.6" stroke="#000" stroke-width="1" fill="none" stroke-linecap="square"/>
</g>
<g shape-rendering="crispEdges">
<path d="M73.38,425.2 L73.8,425.65 M73.8,429.25 L72.95,430.15 M69.12,430.15 L68.7,429.7 M85.7,425.2 L86.12,424.75 M89.95,424.75 L90.8,425.65 M90.8,429.25 L89.95,430.15 M86.12,430.15 L85.7,429.7 M98.88,425.2 L99.3,425.65 M99.3,429.25 L98.45,430.15 M94.62,430.15 L94.2,429.7 M107.38,426.1 L108.65,424.75 M112.05,426.1 L113.33,424.75" stroke="#000" stroke-width="0.75" fill="none" stroke-linecap="square"/>
<path d="M73.8,421.15 L71.25,424.75 M99.3,421.15 L96.75,424.75" stroke="#000" stroke-width="0.8" fill="none" stroke-linecap="square"/>
<path d="M72.53,424.75 L73.38,425.2 M68.7,429.7 L68.28,428.8 M82.72,421.15 L78.47,430.6 M85.7,429.7 L85.28,428.8 M98.03,424.75 L98.88,425.2 M94.2,429.7 L93.78,428.8 M108.65,424.75 L109.5,424.3 M110.77,424.3 L111.62,424.75 M113.33,424.75 L114.17,424.3 M115.45,424.3 L116.3,424.75" stroke="#000" stroke-width="0.9" fill="none" stroke-linecap="square"/>
<path d="M73.8,425.65 L74.22,427 M74.22,427.9 L73.8,429.25 M72.95,430.15 L71.67,430.6 M70.4,430.6 L69.12,430.15 M86.12,424.75 L87.4,424.3 M88.67,424.3 L89.95,424.75 M90.8,425.65 L91.22,427 M91.22,427.9 L90.8,429.25 M89.95,430.15 L88.67,430.6 M87.4,430.6 L86.12,430.15 M99.3,425.65 L99.72,427 M99.72,427.9 L99.3,429.25 M98.45,430.15 L97.17,430.6 M95.9,430.6 L94.62,430.15 M111.62,424.75 L112.05,426.1 M116.3,424.75 L116.72,426.1" stroke="#000" stroke-width="0.95" fill="none" stroke-linecap="square"/>
<path d="M69.12,421.15 L73.8,421.15 M71.25,424.75 L72.53,424.75 M74.22,427 L74.22,427.9 M71.67,430.6 L70.4,430.6 M76.78,421.15 L82.72,421.15 M90.38,421.15 L86.12,421.15 M86.12,421.15 L85.7,425.2 M87.4,424.3 L88.67,424.3 M91.22,427 L91.22,427.9 M88.67,430.6 L87.4,430.6 M94.62,421.15 L99.3,421.15 M96.75,424.75 L98.03,424.75 M99.72,427 L99.72,427.9 M97.17,430.6 L95.9,430.6 M107.38,424.3 L107.38,430.6 M109.5,424.3 L110.77,424.3 M112.05,426.1 L112.05,430.6 M114.17,424.3 L115.45,424.3 M116.72,426.1 L116.72,430.6" stroke="#000" stroke-width="1" fill="none" stroke-linecap="square"/>
</g>
<g shape-rendering="crispEdges">
<path d="M73.38,446.2 L73.8,446.65 M73.8,450.25 L72.95,451.15 M69.12,451.15 L68.7,450.7 M77.62,443.5 L78.9,442.15 M95.48,446.65 L96.33,447.55 M96.33,450.7 L95.9,451.15 M91.65,451.15 L91.23,450.7 M91.23,447.55 L92.08,446.65 M104.4,447.1 L105.67,445.75 M109.08,447.1 L110.35,445.75" stroke="#000" stroke-width="0.75" fill="none" stroke-linecap="square"/>
<path d="M73.8,442.15 L71.25,445.75" stroke="#000" stroke-width="0.8" fill="none" stroke-linecap="square"/>
<path d="M86.55,442.15 L82.3,448.45" stroke="#000" stroke-width="0.85" fill="none" stroke-linecap="square"/>
<path d="M72.53,445.75 L73.38,446.2 M68.7,450.7 L68.28,449.8 M76.78,443.95 L77.62,443.5 M91.65,442.6 L91.23,443.5 M91.23,444.4 L91.65,445.3 M91.65,445.3 L92.5,445.75 M96.33,447.55 L96.75,448.45 M96.75,449.8 L96.33,450.7 M91.23,450.7 L90.8,449.8 M90.8,448.45 L91.23,447.55 M95.05,445.75 L95.9,445.3 M95.9,445.3 L96.33,444.4 M96.33,443.5 L95.9,442.6 M105.67,445.75 L106.53,445.3 M107.8,445.3 L108.65,445.75 M110.35,445.75 L111.2,445.3 M112.48,445.3 L113.33,445.75" stroke="#000" stroke-width="0.9" fill="none" stroke-linecap="square"/>
<path d="M73.8,446.65 L74.22,448 M74.22,448.9 L73.8,450.25 M72.95,451.15 L71.67,451.6 M70.4,451.6 L69.12,451.15 M92.93,442.15 L91.65,442.6 M92.5,445.75 L94.2,446.2 M94.2,446.2 L95.48,446.65 M95.9,451.15 L94.62,451.6 M92.93,451.6 L91.65,451.15 M92.08,446.65 L93.35,446.2 M93.35,446.2 L95.05,445.75 M95.9,442.6 L94.62,442.15 M108.65,445.75 L109.08,447.1 M113.33,445.75 L113.75,447.1" stroke="#000" stroke-width="0.95" fill="none" stroke-linecap="square"/>
<path d="M69.12,442.15 L73.8,442.15 M71.25,445.75 L72.53,445.75 M74.22,448 L74.22,448.9 M71.67,451.6 L70.4,451.6 M78.9,442.15 L78.9,451.6 M82.3,448.45 L88.68,448.45 M86.55,442.15 L86.55,451.6 M91.23,443.5 L91.23,444.4 M96.75,448.45 L96.75,449.8 M94.62,451.6 L92.93,451.6 M90.8,449.8 L90.8,448.45 M96.33,444.4 L96.33,443.5 M94.62,442.15 L92.93,442.15 M104.4,445.3 L104.4,451.6 M106.53,445.3 L107.8,445.3 M109.08,447.1 L109.08,451.6 M111.2,445.3 L112.48,445.3 M113.75,447.1 L113.75,451.6" stroke="#000" stroke-width="1" fill="none" stroke-linecap="square"/>
</g>
<g shape-rendering="crispEdges">
<path d="M69.12,463.05 L69.55,462.6 M72.95,462.6 L73.38,463.05 M72.53,467.1 L68.28,471.6 M77.2,466.2 L77.62,465.75 M81.45,465.75 L82.3,466.65 M82.3,470.25 L81.45,471.15 M77.62,471.15 L77.2,470.7 M107.38,467.1 L108.65,465.75 M112.05,467.1 L113.33,465.75" stroke="#000" stroke-width="0.75" fill="none" stroke-linecap="square"/>
<path d="M73.38,465.75 L72.53,467.1 M95.05,462.6 L94.2,463.95 M94.2,469.8 L95.05,471.15 M98.45,471.15 L99.3,469.8 M99.3,463.95 L98.45,462.6" stroke="#000" stroke-width="0.85" fill="none" stroke-linecap="square"/>
<path d="M68.7,463.95 L69.12,463.05 M69.55,462.6 L70.4,462.15 M72.1,462.15 L72.95,462.6 M73.38,463.05 L73.8,463.95 M73.8,464.85 L73.38,465.75 M77.2,470.7 L76.78,469.8 M91.22,462.15 L86.97,471.6 M108.65,465.75 L109.5,465.3 M110.77,465.3 L111.62,465.75 M113.33,465.75 L114.17,465.3 M115.45,465.3 L116.3,465.75" stroke="#000" stroke-width="0.9" fill="none" stroke-linecap="square"/>
<path d="M77.62,465.75 L78.9,465.3 M80.17,465.3 L81.45,465.75 M82.3,466.65 L82.72,468 M82.72,468.9 L82.3,470.25 M81.45,471.15 L80.17,471.6 M78.9,471.6 L77.62,471.15 M96.33,462.15 L95.05,462.6 M95.05,471.15 L96.33,471.6 M97.17,471.6 L98.45,471.15 M98.45,462.6 L97.17,462.15 M111.62,465.75 L112.05,467.1 M116.3,465.75 L116.72,467.1" stroke="#000" stroke-width="0.95" fill="none" stroke-linecap="square"/>
<path d="M68.7,464.4 L68.7,463.95 M70.4,462.15 L72.1,462.15 M73.8,463.95 L73.8,464.85 M68.28,471.6 L74.22,471.6 M81.88,462.15 L77.62,462.15 M77.62,462.15 L77.2,466.2 M78.9,465.3 L80.17,465.3 M82.72,468 L82.72,468.9 M80.17,471.6 L78.9,471.6 M85.28,462.15 L91.22,462.15 M94.2,463.95 L93.78,466.2 M93.78,466.2 L93.78,467.55 M93.78,467.55 L94.2,469.8 M96.33,471.6 L97.17,471.6 M99.3,469.8 L99.72,467.55 M99.72,467.55 L99.72,466.2 M99.72,466.2 L99.3,463.95 M97.17,462.15 L96.33,462.15 M107.38,465.3 L107.38,471.6 M109.5,465.3 L110.77,465.3 M112.05,467.1 L112.05,471.6 M114.17,465.3 L115.45,465.3 M116.72,467.1 L116.72,471.6" stroke="#000" stroke-width="1" fill="none" stroke-linecap="square"/>
</g>
<g shape-rendering="crispEdges">
<path d="M69.12,482.05 L69.55,481.6 M72.95,481.6 L73.38,482.05 M72.53,486.1 L68.28,490.6 M86.12,482.05 L86.55,481.6 M89.95,481.6 L90.38,482.05 M89.53,486.1 L85.28,490.6 M107.38,486.1 L108.65,484.75 M112.05,486.1 L113.33,484.75" stroke="#000" stroke-width="0.75" fill="none" stroke-linecap="square"/>
<path d="M73.38,484.75 L72.53,486.1 M78.05,481.6 L77.2,482.95 M77.2,488.8 L78.05,490.15 M81.45,490.15 L82.3,488.8 M82.3,482.95 L81.45,481.6 M90.38,484.75 L89.53,486.1 M98.03,481.15 L93.78,487.45" stroke="#000" stroke-width="0.85" fill="none" stroke-linecap="square"/>
<path d="M68.7,482.95 L69.12,482.05 M69.55,481.6 L70.4,481.15 M72.1,481.15 L72.95,481.6 M73.38,482.05 L73.8,482.95 M73.8,483.85 L73.38,484.75 M85.7,482.95 L86.12,482.05 M86.55,481.6 L87.4,481.15 M89.1,481.15 L89.95,481.6 M90.38,482.05 L90.8,482.95 M90.8,483.85 L90.38,484.75 M108.65,484.75 L109.5,484.3 M110.77,484.3 L111.62,484.75 M113.33,484.75 L114.17,484.3 M115.45,484.3 L116.3,484.75" stroke="#000" stroke-width="0.9" fill="none" stroke-linecap="square"/>
<path d="M79.33,481.15 L78.05,481.6 M78.05,490.15 L79.33,490.6 M80.17,490.6 L81.45,490.15 M81.45,481.6 L80.17,481.15 M111.62,484.75 L112.05,486.1 M116.3,484.75 L116.72,486.1" stroke="#000" stroke-width="0.95" fill="none" stroke-linecap="square"/>
<path d="M68.7,483.4 L68.7,482.95 M70.4,481.15 L72.1,481.15 M73.8,482.95 L73.8,483.85 M68.28,490.6 L74.22,490.6 M77.2,482.95 L76.78,485.2 M76.78,485.2 L76.78,486.55 M76.78,486.55 L77.2,488.8 M79.33,490.6 L80.17,490.6 M82.3,488.8 L82.72,486.55 M82.72,486.55 L82.72,485.2 M82.72,485.2 L82.3,482.95 M80.17,481.15 L79.33,481.15 M85.7,483.4 L85.7,482.95 M87.4,481.15 L89.1,481.15 M90.8,482.95 L90.8,483.85 M85.28,490.6 L91.22,490.6 M93.78,487.45 L100.15,487.45 M98.03,481.15 L98.03,490.6 M107.38,484.3 L107.38,490.6 M109.5,484.3 L110.77,484.3 M112.05,486.1 L112.05,490.6 M114.17,484.3 L115.45,484.3 M116.72,486.1 L116.72,490.6" stroke="#000" stroke-width="1" fill="none" stroke-linecap="square"/>
</g>
<g shape-rendering="crispEdges">
<path d="M69.12,500.5 L70.4,499.15 M74.23,503.2 L74.65,502.75 M78.48,502.75 L79.33,503.65 M79.33,507.25 L78.48,508.15 M74.65,508.15 L74.23,507.7 M83.15,500.5 L84.43,499.15 M88.68,500.05 L89.1,499.6 M92.5,499.6 L92.93,500.05 M92.08,504.1 L87.83,508.6 M101.43,504.1 L102.7,502.75 M106.1,504.1 L107.38,502.75" stroke="#000" stroke-width="0.75" fill="none" stroke-linecap="square"/>
<path d="M92.93,502.75 L92.08,504.1" stroke="#000" stroke-width="0.85" fill="none" stroke-linecap="square"/>
<path d="M68.28,500.95 L69.12,500.5 M74.23,507.7 L73.8,506.8 M82.3,500.95 L83.15,500.5 M88.25,500.95 L88.68,500.05 M89.1,499.6 L89.95,499.15 M91.65,499.15 L92.5,499.6 M92.93,500.05 L93.35,500.95 M93.35,501.85 L92.93,502.75 M102.7,502.75 L103.55,502.3 M104.83,502.3 L105.68,502.75 M107.38,502.75 L108.23,502.3 M109.5,502.3 L110.35,502.75" stroke="#000" stroke-width="0.9" fill="none" stroke-linecap="square"/>
<path d="M74.65,502.75 L75.93,502.3 M77.2,502.3 L78.48,502.75 M79.33,503.65 L79.75,505 M79.75,505.9 L79.33,507.25 M78.48,508.15 L77.2,508.6 M75.93,508.6 L74.65,508.15 M105.68,502.75 L106.1,504.1 M110.35,502.75 L110.78,504.1" stroke="#000" stroke-width="0.95" fill="none" stroke-linecap="square"/>
<path d="M70.4,499.15 L70.4,508.6 M78.9,499.15 L74.65,499.15 M74.65,499.15 L74.23,503.2 M75.93,502.3 L77.2,502.3 M79.75,505 L79.75,505.9 M77.2,508.6 L75.93,508.6 M84.43,499.15 L84.43,508.6 M88.25,501.4 L88.25,500.95 M89.95,499.15 L91.65,499.15 M93.35,500.95 L93.35,501.85 M87.83,508.6 L93.78,508.6 M101.43,502.3 L101.43,508.6 M103.55,502.3 L104.83,502.3 M106.1,504.1 L106.1,508.6 M108.23,502.3 L109.5,502.3 M110.78,504.1 L110.78,508.6" stroke="#000" stroke-width="1" fill="none" stroke-linecap="square"/>
</g>
<g shape-rendering="crispEdges">
<path d="M69.12,517.5 L70.4,516.15 M83.15,517.05 L83.58,516.6 M86.98,516.6 L87.4,517.05 M86.55,521.1 L82.3,525.6 M104.4,521.1 L105.67,519.75 M109.08,521.1 L110.35,519.75" stroke="#000" stroke-width="0.75" fill="none" stroke-linecap="square"/>
<path d="M75.08,516.6 L74.23,517.95 M74.23,523.8 L75.08,525.15 M78.48,525.15 L79.33,523.8 M79.33,517.95 L78.48,516.6 M87.4,519.75 L86.55,521.1 M92.08,516.6 L91.23,517.95 M91.23,523.8 L92.08,525.15 M95.48,525.15 L96.33,523.8 M96.33,517.95 L95.48,516.6" stroke="#000" stroke-width="0.85" fill="none" stroke-linecap="square"/>
<path d="M68.28,517.95 L69.12,517.5 M82.73,517.95 L83.15,517.05 M83.58,516.6 L84.43,516.15 M86.12,516.15 L86.98,516.6 M87.4,517.05 L87.83,517.95 M87.83,518.85 L87.4,519.75 M105.67,519.75 L106.53,519.3 M107.8,519.3 L108.65,519.75 M110.35,519.75 L111.2,519.3 M112.48,519.3 L113.33,519.75" stroke="#000" stroke-width="0.9" fill="none" stroke-linecap="square"/>
<path d="M76.35,516.15 L75.08,516.6 M75.08,525.15 L76.35,525.6 M77.2,525.6 L78.48,525.15 M78.48,516.6 L77.2,516.15 M93.35,516.15 L92.08,516.6 M92.08,525.15 L93.35,525.6 M94.2,525.6 L95.48,525.15 M95.48,516.6 L94.2,516.15 M108.65,519.75 L109.08,521.1 M113.33,519.75 L113.75,521.1" stroke="#000" stroke-width="0.95" fill="none" stroke-linecap="square"/>
<path d="M70.4,516.15 L70.4,525.6 M74.23,517.95 L73.8,520.2 M73.8,520.2 L73.8,521.55 M73.8,521.55 L74.23,523.8 M76.35,525.6 L77.2,525.6 M79.33,523.8 L79.75,521.55 M79.75,521.55 L79.75,520.2 M79.75,520.2 L79.33,517.95 M77.2,516.15 L76.35,516.15 M82.73,518.4 L82.73,517.95 M84.43,516.15 L86.12,516.15 M87.83,517.95 L87.83,518.85 M82.3,525.6 L88.25,525.6 M91.23,517.95 L90.8,520.2 M90.8,520.2 L90.8,521.55 M90.8,521.55 L91.23,523.8 M93.35,525.6 L94.2,525.6 M96.33,523.8 L96.75,521.55 M96.75,521.55 L96.75,520.2 M96.75,520.2 L96.33,517.95 M94.2,516.15 L93.35,516.15 M104.4,519.3 L104.4,525.6 M106.53,519.3 L107.8,519.3 M109.08,521.1 L109.08,525.6 M111.2,519.3 L112.48,519.3 M113.75,521.1 L113.75,525.6" stroke="#000" stroke-width="1" fill="none" stroke-linecap="square"/>
</g>
<g shape-rendering="crispEdges">
<path d="M68.7,537.2 L69.12,536.75 M72.95,536.75 L73.8,537.65 M73.8,541.25 L72.95,542.15 M69.12,542.15 L68.7,541.7 M77.2,537.2 L77.62,536.75 M81.45,536.75 L82.3,537.65 M82.3,541.25 L81.45,542.15 M77.62,542.15 L77.2,541.7 M86.12,534.05 L86.55,533.6 M89.95,533.6 L90.38,534.05 M89.53,538.1 L85.28,542.6 M98.88,538.1 L100.15,536.75 M103.55,538.1 L104.83,536.75" stroke="#000" stroke-width="0.75" fill="none" stroke-linecap="square"/>
<path d="M90.38,536.75 L89.53,538.1" stroke="#000" stroke-width="0.85" fill="none" stroke-linecap="square"/>
<path d="M68.7,541.7 L68.28,540.8 M77.2,541.7 L76.78,540.8 M85.7,534.95 L86.12,534.05 M86.55,533.6 L87.4,533.15 M89.1,533.15 L89.95,533.6 M90.38,534.05 L90.8,534.95 M90.8,535.85 L90.38,536.75 M100.15,536.75 L101,536.3 M102.27,536.3 L103.12,536.75 M104.83,536.75 L105.67,536.3 M106.95,536.3 L107.8,536.75" stroke="#000" stroke-width="0.9" fill="none" stroke-linecap="square"/>
<path d="M69.12,536.75 L70.4,536.3 M71.67,536.3 L72.95,536.75 M73.8,537.65 L74.22,539 M74.22,539.9 L73.8,541.25 M72.95,542.15 L71.67,542.6 M70.4,542.6 L69.12,542.15 M77.62,536.75 L78.9,536.3 M80.17,536.3 L81.45,536.75 M82.3,537.65 L82.72,539 M82.72,539.9 L82.3,541.25 M81.45,542.15 L80.17,542.6 M78.9,542.6 L77.62,542.15 M103.12,536.75 L103.55,538.1 M107.8,536.75 L108.22,538.1" stroke="#000" stroke-width="0.95" fill="none" stroke-linecap="square"/>
<path d="M73.38,533.15 L69.12,533.15 M69.12,533.15 L68.7,537.2 M70.4,536.3 L71.67,536.3 M74.22,539 L74.22,539.9 M71.67,542.6 L70.4,542.6 M81.88,533.15 L77.62,533.15 M77.62,533.15 L77.2,537.2 M78.9,536.3 L80.17,536.3 M82.72,539 L82.72,539.9 M80.17,542.6 L78.9,542.6 M85.7,535.4 L85.7,534.95 M87.4,533.15 L89.1,533.15 M90.8,534.95 L90.8,535.85 M85.28,542.6 L91.22,542.6 M98.88,536.3 L98.88,542.6 M101,536.3 L102.27,536.3 M103.55,538.1 L103.55,542.6 M105.67,536.3 L106.95,536.3 M108.22,538.1 L108.22,542.6" stroke="#000" stroke-width="1" fill="none" stroke-linecap="square"/>
</g>
<g shape-rendering="crispEdges">
<path d="M69.12,550.5 L70.4,549.15 M83.15,557.25 L84,558.15 M86.98,558.15 L87.83,557.25 M87.83,554.1 L86.98,553.2 M84,553.2 L83.15,554.1 M95.9,554.1 L97.17,552.75 M100.58,554.1 L101.85,552.75" stroke="#000" stroke-width="0.75" fill="none" stroke-linecap="square"/>
<path d="M75.08,549.6 L74.23,550.95 M74.23,556.8 L75.08,558.15 M78.48,558.15 L79.33,556.8 M79.33,550.95 L78.48,549.6 M84,549.6 L83.15,550.95" stroke="#000" stroke-width="0.85" fill="none" stroke-linecap="square"/>
<path d="M68.28,550.95 L69.12,550.5 M87.83,550.5 L87.4,549.6 M97.17,552.75 L98.03,552.3 M99.3,552.3 L100.15,552.75 M101.85,552.75 L102.7,552.3 M103.98,552.3 L104.83,552.75" stroke="#000" stroke-width="0.9" fill="none" stroke-linecap="square"/>
<path d="M76.35,549.15 L75.08,549.6 M75.08,558.15 L76.35,558.6 M77.2,558.6 L78.48,558.15 M78.48,549.6 L77.2,549.15 M87.4,549.6 L86.12,549.15 M85.28,549.15 L84,549.6 M82.73,555.45 L83.15,557.25 M84,558.15 L85.28,558.6 M85.7,558.6 L86.98,558.15 M87.83,557.25 L88.25,555.9 M88.25,555.45 L87.83,554.1 M86.98,553.2 L85.7,552.75 M85.28,552.75 L84,553.2 M83.15,554.1 L82.73,555.45 M100.15,552.75 L100.58,554.1 M104.83,552.75 L105.25,554.1" stroke="#000" stroke-width="0.95" fill="none" stroke-linecap="square"/>
<path d="M70.4,549.15 L70.4,558.6 M74.23,550.95 L73.8,553.2 M73.8,553.2 L73.8,554.55 M73.8,554.55 L74.23,556.8 M76.35,558.6 L77.2,558.6 M79.33,556.8 L79.75,554.55 M79.75,554.55 L79.75,553.2 M79.75,553.2 L79.33,550.95 M77.2,549.15 L76.35,549.15 M86.12,549.15 L85.28,549.15 M83.15,550.95 L82.73,553.2 M82.73,553.2 L82.73,555.45 M85.28,558.6 L85.7,558.6 M88.25,555.9 L88.25,555.45 M85.7,552.75 L85.28,552.75 M95.9,552.3 L95.9,558.6 M98.03,552.3 L99.3,552.3 M100.58,554.1 L100.58,558.6 M102.7,552.3 L103.98,552.3 M105.25,554.1 L105.25,558.6" stroke="#000" stroke-width="1" fill="none" stroke-linecap="square"/>
</g>
<g shape-rendering="crispEdges">
<path d="M256.54,594.62 L256.1,595.06 M256.1,595.06 L256.54,595.5 M256.54,595.5 L256.98,595.06 M256.98,595.06 L256.54,594.62 M260.67,585.6 L262.32,583.95" stroke="#4c4200" stroke-width="0.7" fill="none" stroke-linecap="square"/>
<path d="M247.47,584.5 L246.37,586.15 M246.37,593.3 L247.47,594.95 M251.87,594.95 L252.97,593.3 M252.97,586.15 L251.87,584.5" stroke="#4c4200" stroke-width="0.85" fill="none" stroke-linecap="square"/>
<path d="M259.57,586.15 L260.67,585.6" stroke="#4c4200" stroke-width="0.9" fill="none" stroke-linecap="square"/>
<path d="M249.12,583.95 L247.47,584.5 M247.47,594.95 L249.12,595.5 M250.22,595.5 L251.87,594.95 M251.87,584.5 L250.22,583.95" stroke="#4c4200" stroke-width="0.95" fill="none" stroke-linecap="square"/>
<path d="M246.37,586.15 L245.82,588.9 M245.82,588.9 L245.82,590.55 M245.82,590.55 L246.37,593.3 M249.12,595.5 L250.22,595.5 M252.97,593.3 L253.52,590.55 M253.52,590.55 L253.52,588.9 M253.52,588.9 L252.97,586.15 M250.22,583.95 L249.12,583.95 M262.32,583.95 L262.32,595.5" stroke="#4c4200" stroke-width="1" fill="none" stroke-linecap="square"/>
</g>
<g shape-rendering="crispEdges">
<path d="M288.66,594.62 L288.22,595.06 M288.22,595.06 L288.66,595.5 M288.66,595.5 L289.1,595.06 M289.1,595.06 L288.66,594.62 M292.78,585.05 L293.33,584.5 M297.73,584.5 L298.28,585.05 M297.18,590 L291.68,595.5" stroke="#4c4200" stroke-width="0.7" fill="none" stroke-linecap="square"/>
<path d="M279.58,584.5 L278.48,586.15 M278.48,593.3 L279.58,594.95 M283.98,594.95 L285.08,593.3 M285.08,586.15 L283.98,584.5 M298.28,588.35 L297.18,590" stroke="#4c4200" stroke-width="0.85" fill="none" stroke-linecap="square"/>
<path d="M292.23,586.15 L292.78,585.05 M293.33,584.5 L294.43,583.95 M296.63,583.95 L297.73,584.5 M298.28,585.05 L298.83,586.15 M298.83,587.25 L298.28,588.35" stroke="#4c4200" stroke-width="0.9" fill="none" stroke-linecap="square"/>
<path d="M281.23,583.95 L279.58,584.5 M279.58,594.95 L281.23,595.5 M282.33,595.5 L283.98,594.95 M283.98,584.5 L282.33,583.95" stroke="#4c4200" stroke-width="0.95" fill="none" stroke-linecap="square"/>
<path d="M278.48,586.15 L277.93,588.9 M277.93,588.9 L277.93,590.55 M277.93,590.55 L278.48,593.3 M281.23,595.5 L282.33,595.5 M285.08,593.3 L285.63,590.55 M285.63,590.55 L285.63,588.9 M285.63,588.9 L285.08,586.15 M282.33,583.95 L281.23,583.95 M292.23,586.7 L292.23,586.15 M294.43,583.95 L296.63,583.95 M298.83,586.15 L298.83,587.25 M291.68,595.5 L299.38,595.5" stroke="#4c4200" stroke-width="1" fill="none" stroke-linecap="square"/>
</g>
<g shape-rendering="crispEdges">
<path d="M347.55,594.62 L347.11,595.06 M347.11,595.06 L347.55,595.5 M347.55,595.5 L347.99,595.06 M347.99,595.06 L347.55,594.62 M351.68,593.85 L352.78,594.95 M356.63,594.95 L357.73,593.85 M357.73,590 L356.63,588.9 M352.78,588.9 L351.68,590" stroke="#4c4200" stroke-width="0.7" fill="none" stroke-linecap="square"/>
<path d="M338.48,584.5 L337.38,586.15 M337.38,593.3 L338.48,594.95 M342.88,594.95 L343.98,593.3 M343.98,586.15 L342.88,584.5 M352.78,584.5 L351.68,586.15" stroke="#4c4200" stroke-width="0.85" fill="none" stroke-linecap="square"/>
<path d="M357.73,585.6 L357.18,584.5" stroke="#4c4200" stroke-width="0.9" fill="none" stroke-linecap="square"/>
<path d="M340.13,583.95 L338.48,584.5 M338.48,594.95 L340.13,595.5 M341.23,595.5 L342.88,594.95 M342.88,584.5 L341.23,583.95 M357.18,584.5 L355.53,583.95 M354.43,583.95 L352.78,584.5 M351.13,591.65 L351.68,593.85 M352.78,594.95 L354.43,595.5 M354.98,595.5 L356.63,594.95 M357.73,593.85 L358.28,592.2 M358.28,591.65 L357.73,590 M356.63,588.9 L354.98,588.35 M354.43,588.35 L352.78,588.9 M351.68,590 L351.13,591.65" stroke="#4c4200" stroke-width="0.95" fill="none" stroke-linecap="square"/>
<path d="M337.38,586.15 L336.83,588.9 M336.83,588.9 L336.83,590.55 M336.83,590.55 L337.38,593.3 M340.13,595.5 L341.23,595.5 M343.98,593.3 L344.53,590.55 M344.53,590.55 L344.53,588.9 M344.53,588.9 L343.98,586.15 M341.23,583.95 L340.13,583.95 M355.53,583.95 L354.43,583.95 M351.68,586.15 L351.13,588.9 M351.13,588.9 L351.13,591.65 M354.43,595.5 L354.98,595.5 M358.28,592.2 L358.28,591.65 M354.98,588.35 L354.43,588.35" stroke="#4c4200" stroke-width="1" fill="none" stroke-linecap="square"/>
</g>
<g shape-rendering="crispEdges">
<path d="M369.54,585.6 L371.19,583.95 M375.31,594.62 L374.87,595.06 M374.87,595.06 L375.31,595.5 M375.31,595.5 L375.75,595.06 M375.75,595.06 L375.31,594.62" stroke="#4c4200" stroke-width="0.7" fill="none" stroke-linecap="square"/>
<path d="M379.99,584.5 L378.89,586.15 M378.89,593.3 L379.99,594.95 M384.39,594.95 L385.49,593.3 M385.49,586.15 L384.39,584.5" stroke="#4c4200" stroke-width="0.85" fill="none" stroke-linecap="square"/>
<path d="M368.44,586.15 L369.54,585.6" stroke="#4c4200" stroke-width="0.9" fill="none" stroke-linecap="square"/>
<path d="M381.64,583.95 L379.99,584.5 M379.99,594.95 L381.64,595.5 M382.74,595.5 L384.39,594.95 M384.39,584.5 L382.74,583.95" stroke="#4c4200" stroke-width="0.95" fill="none" stroke-linecap="square"/>
<path d="M371.19,583.95 L371.19,595.5 M378.89,586.15 L378.34,588.9 M378.34,588.9 L378.34,590.55 M378.34,590.55 L378.89,593.3 M381.64,595.5 L382.74,595.5 M385.49,593.3 L386.04,590.55 M386.04,590.55 L386.04,588.9 M386.04,588.9 L385.49,586.15 M382.74,583.95 L381.64,583.95" stroke="#4c4200" stroke-width="1" fill="none" stroke-linecap="square"/>
</g>
<g shape-rendering="crispEdges">
<path d="M410.5,585.05 L411.05,584.5 M415.45,584.5 L416,585.05 M414.9,590 L409.4,595.5 M420.13,594.62 L419.69,595.06 M419.69,595.06 L420.13,595.5 M420.13,595.5 L420.57,595.06 M420.57,595.06 L420.13,594.62" stroke="#4c4200" stroke-width="0.7" fill="none" stroke-linecap="square"/>
<path d="M416,588.35 L414.9,590 M424.8,584.5 L423.7,586.15 M423.7,593.3 L424.8,594.95 M429.2,594.95 L430.3,593.3 M430.3,586.15 L429.2,584.5" stroke="#4c4200" stroke-width="0.85" fill="none" stroke-linecap="square"/>
<path d="M409.95,586.15 L410.5,585.05 M411.05,584.5 L412.15,583.95 M414.35,583.95 L415.45,584.5 M416,585.05 L416.55,586.15 M416.55,587.25 L416,588.35" stroke="#4c4200" stroke-width="0.9" fill="none" stroke-linecap="square"/>
<path d="M426.45,583.95 L424.8,584.5 M424.8,594.95 L426.45,595.5 M427.55,595.5 L429.2,594.95 M429.2,584.5 L427.55,583.95" stroke="#4c4200" stroke-width="0.95" fill="none" stroke-linecap="square"/>
<path d="M409.95,586.7 L409.95,586.15 M412.15,583.95 L414.35,583.95 M416.55,586.15 L416.55,587.25 M409.4,595.5 L417.1,595.5 M423.7,586.15 L423.15,588.9 M423.15,588.9 L423.15,590.55 M423.15,590.55 L423.7,593.3 M426.45,595.5 L427.55,595.5 M430.3,593.3 L430.85,590.55 M430.85,590.55 L430.85,588.9 M430.85,588.9 L430.3,586.15 M427.55,583.95 L426.45,583.95" stroke="#4c4200" stroke-width="1" fill="none" stroke-linecap="square"/>
</g>
<g shape-rendering="crispEdges">
<path d="M442.59,588.9 L443.14,589.45 M443.14,593.85 L442.04,594.95 M437.09,594.95 L436.54,594.4 M446.71,594.62 L446.27,595.06 M446.27,595.06 L446.71,595.5 M446.71,595.5 L447.15,595.06 M447.15,595.06 L446.71,594.62" stroke="#4c4200" stroke-width="0.7" fill="none" stroke-linecap="square"/>
<path d="M443.14,583.95 L439.84,588.35" stroke="#4c4200" stroke-width="0.8" fill="none" stroke-linecap="square"/>
<path d="M451.39,584.5 L450.29,586.15 M450.29,593.3 L451.39,594.95 M455.79,594.95 L456.89,593.3 M456.89,586.15 L455.79,584.5" stroke="#4c4200" stroke-width="0.85" fill="none" stroke-linecap="square"/>
<path d="M441.49,588.35 L442.59,588.9 M436.54,594.4 L435.99,593.3" stroke="#4c4200" stroke-width="0.9" fill="none" stroke-linecap="square"/>
<path d="M443.14,589.45 L443.69,591.1 M443.69,592.2 L443.14,593.85 M442.04,594.95 L440.39,595.5 M438.74,595.5 L437.09,594.95 M453.04,583.95 L451.39,584.5 M451.39,594.95 L453.04,595.5 M454.14,595.5 L455.79,594.95 M455.79,584.5 L454.14,583.95" stroke="#4c4200" stroke-width="0.95" fill="none" stroke-linecap="square"/>
<path d="M437.09,583.95 L443.14,583.95 M439.84,588.35 L441.49,588.35 M443.69,591.1 L443.69,592.2 M440.39,595.5 L438.74,595.5 M450.29,586.15 L449.74,588.9 M449.74,588.9 L449.74,590.55 M449.74,590.55 L450.29,593.3 M453.04,595.5 L454.14,595.5 M456.89,593.3 L457.44,590.55 M457.44,590.55 L457.44,588.9 M457.44,588.9 L456.89,586.15 M454.14,583.95 L453.04,583.95" stroke="#4c4200" stroke-width="1" fill="none" stroke-linecap="square"/>
</g>
<g shape-rendering="crispEdges">
<path d="M471.7,588.9 L472.25,588.35 M477.2,588.35 L478.3,589.45 M478.3,593.85 L477.2,594.95 M472.25,594.95 L471.7,594.4 M481.88,594.62 L481.44,595.06 M481.44,595.06 L481.88,595.5 M481.88,595.5 L482.32,595.06 M482.32,595.06 L481.88,594.62" stroke="#4c4200" stroke-width="0.7" fill="none" stroke-linecap="square"/>
<path d="M486.55,584.5 L485.45,586.15 M485.45,593.3 L486.55,594.95 M490.95,594.95 L492.05,593.3 M492.05,586.15 L490.95,584.5" stroke="#4c4200" stroke-width="0.85" fill="none" stroke-linecap="square"/>
<path d="M471.7,594.4 L471.15,593.3" stroke="#4c4200" stroke-width="0.9" fill="none" stroke-linecap="square"/>
<path d="M472.25,588.35 L473.9,587.8 M475.55,587.8 L477.2,588.35 M478.3,589.45 L478.85,591.1 M478.85,592.2 L478.3,593.85 M477.2,594.95 L475.55,595.5 M473.9,595.5 L472.25,594.95 M488.2,583.95 L486.55,584.5 M486.55,594.95 L488.2,595.5 M489.3,595.5 L490.95,594.95 M490.95,584.5 L489.3,583.95" stroke="#4c4200" stroke-width="0.95" fill="none" stroke-linecap="square"/>
<path d="M477.75,583.95 L472.25,583.95 M472.25,583.95 L471.7,588.9 M473.9,587.8 L475.55,587.8 M478.85,591.1 L478.85,592.2 M475.55,595.5 L473.9,595.5 M485.45,586.15 L484.9,588.9 M484.9,588.9 L484.9,590.55 M484.9,590.55 L485.45,593.3 M488.2,595.5 L489.3,595.5 M492.05,593.3 L492.6,590.55 M492.6,590.55 L492.6,588.9 M492.6,588.9 L492.05,586.15 M489.3,583.95 L488.2,583.95" stroke="#4c4200" stroke-width="1" fill="none" stroke-linecap="square"/>
</g>
<g shape-rendering="crispEdges">
<path d="M519.55,585.6 L521.2,583.95 M536.32,594.62 L535.88,595.06 M535.88,595.06 L536.32,595.5 M536.32,595.5 L536.76,595.06 M536.76,595.06 L536.32,594.62" stroke="#4c4200" stroke-width="0.7" fill="none" stroke-linecap="square"/>
<path d="M527.25,584.5 L526.15,586.15 M526.15,593.3 L527.25,594.95 M531.65,594.95 L532.75,593.3 M532.75,586.15 L531.65,584.5 M541,584.5 L539.9,586.15 M539.9,593.3 L541,594.95 M545.4,594.95 L546.5,593.3 M546.5,586.15 L545.4,584.5" stroke="#4c4200" stroke-width="0.85" fill="none" stroke-linecap="square"/>
<path d="M518.45,586.15 L519.55,585.6" stroke="#4c4200" stroke-width="0.9" fill="none" stroke-linecap="square"/>
<path d="M528.9,583.95 L527.25,584.5 M527.25,594.95 L528.9,595.5 M530,595.5 L531.65,594.95 M531.65,584.5 L530,583.95 M542.65,583.95 L541,584.5 M541,594.95 L542.65,595.5 M543.75,595.5 L545.4,594.95 M545.4,584.5 L543.75,583.95" stroke="#4c4200" stroke-width="0.95" fill="none" stroke-linecap="square"/>
<path d="M521.2,583.95 L521.2,595.5 M526.15,586.15 L525.6,588.9 M525.6,588.9 L525.6,590.55 M525.6,590.55 L526.15,593.3 M528.9,595.5 L530,595.5 M532.75,593.3 L533.3,590.55 M533.3,590.55 L533.3,588.9 M533.3,588.9 L532.75,586.15 M530,583.95 L528.9,583.95 M539.9,586.15 L539.35,588.9 M539.35,588.9 L539.35,590.55 M539.35,590.55 L539.9,593.3 M542.65,595.5 L543.75,595.5 M546.5,593.3 L547.05,590.55 M547.05,590.55 L547.05,588.9 M547.05,588.9 L546.5,586.15 M543.75,583.95 L542.65,583.95" stroke="#4c4200" stroke-width="1" fill="none" stroke-linecap="square"/>
</g>
<g shape-rendering="crispEdges">
<path d="M572.2,585.05 L572.75,584.5 M577.15,584.5 L577.7,585.05 M576.6,590 L571.1,595.5 M592.82,594.62 L592.38,595.06 M592.38,595.06 L592.82,595.5 M592.82,595.5 L593.26,595.06 M593.26,595.06 L592.82,594.62" stroke="#4c4200" stroke-width="0.7" fill="none" stroke-linecap="square"/>
<path d="M577.7,588.35 L576.6,590 M583.75,584.5 L582.65,586.15 M582.65,593.3 L583.75,594.95 M588.15,594.95 L589.25,593.3 M589.25,586.15 L588.15,584.5 M597.5,584.5 L596.4,586.15 M596.4,593.3 L597.5,594.95 M601.9,594.95 L603,593.3 M603,586.15 L601.9,584.5" stroke="#4c4200" stroke-width="0.85" fill="none" stroke-linecap="square"/>
<path d="M571.65,586.15 L572.2,585.05 M572.75,584.5 L573.85,583.95 M576.05,583.95 L577.15,584.5 M577.7,585.05 L578.25,586.15 M578.25,587.25 L577.7,588.35" stroke="#4c4200" stroke-width="0.9" fill="none" stroke-linecap="square"/>
<path d="M585.4,583.95 L583.75,584.5 M583.75,594.95 L585.4,595.5 M586.5,595.5 L588.15,594.95 M588.15,584.5 L586.5,583.95 M599.15,583.95 L597.5,584.5 M597.5,594.95 L599.15,595.5 M600.25,595.5 L601.9,594.95 M601.9,584.5 L600.25,583.95" stroke="#4c4200" stroke-width="0.95" fill="none" stroke-linecap="square"/>
<path d="M571.65,586.7 L571.65,586.15 M573.85,583.95 L576.05,583.95 M578.25,586.15 L578.25,587.25 M571.1,595.5 L578.8,595.5 M582.65,586.15 L582.1,588.9 M582.1,588.9 L582.1,590.55 M582.1,590.55 L582.65,593.3 M585.4,595.5 L586.5,595.5 M589.25,593.3 L589.8,590.55 M589.8,590.55 L589.8,588.9 M589.8,588.9 L589.25,586.15 M586.5,583.95 L585.4,583.95 M596.4,586.15 L595.85,588.9 M595.85,588.9 L595.85,590.55 M595.85,590.55 L596.4,593.3 M599.15,595.5 L600.25,595.5 M603,593.3 L603.55,590.55 M603.55,590.55 L603.55,588.9 M603.55,588.9 L603,586.15 M600.25,583.95 L599.15,583.95" stroke="#4c4200" stroke-width="1" fill="none" stroke-linecap="square"/>
</g>
<g shape-rendering="crispEdges">
<path d="M650.86,594.62 L650.42,595.06 M650.42,595.06 L650.86,595.5 M650.86,595.5 L651.3,595.06 M651.3,595.06 L650.86,594.62" stroke="#4c4200" stroke-width="0.7" fill="none" stroke-linecap="square"/>
<path d="M634.63,583.95 L629.13,591.65" stroke="#4c4200" stroke-width="0.8" fill="none" stroke-linecap="square"/>
<path d="M641.78,584.5 L640.68,586.15 M640.68,593.3 L641.78,594.95 M646.18,594.95 L647.28,593.3 M647.28,586.15 L646.18,584.5 M655.53,584.5 L654.43,586.15 M654.43,593.3 L655.53,594.95 M659.93,594.95 L661.03,593.3 M661.03,586.15 L659.93,584.5" stroke="#4c4200" stroke-width="0.85" fill="none" stroke-linecap="square"/>
<path d="M643.43,583.95 L641.78,584.5 M641.78,594.95 L643.43,595.5 M644.53,595.5 L646.18,594.95 M646.18,584.5 L644.53,583.95 M657.18,583.95 L655.53,584.5 M655.53,594.95 L657.18,595.5 M658.28,595.5 L659.93,594.95 M659.93,584.5 L658.28,583.95" stroke="#4c4200" stroke-width="0.95" fill="none" stroke-linecap="square"/>
<path d="M629.13,591.65 L637.38,591.65 M634.63,583.95 L634.63,595.5 M640.68,586.15 L640.13,588.9 M640.13,588.9 L640.13,590.55 M640.13,590.55 L640.68,593.3 M643.43,595.5 L644.53,595.5 M647.28,593.3 L647.83,590.55 M647.83,590.55 L647.83,588.9 M647.83,588.9 L647.28,586.15 M644.53,583.95 L643.43,583.95 M654.43,586.15 L653.88,588.9 M653.88,588.9 L653.88,590.55 M653.88,590.55 L654.43,593.3 M657.18,595.5 L658.28,595.5 M661.03,593.3 L661.58,590.55 M661.58,590.55 L661.58,588.9 M661.58,588.9 L661.03,586.15 M658.28,583.95 L657.18,583.95" stroke="#4c4200" stroke-width="1" fill="none" stroke-linecap="square"/>
</g>
<g shape-rendering="crispEdges">
<path d="M647.6,598.25 L647.05,598.8 M648.15,589.45 L647.05,588.35 M643.2,588.35 L642.1,589.45 M642.1,593.85 L643.2,594.95 M647.05,594.95 L648.15,593.85 M667.4,587.8 L661.9,593.3 M676.75,598.25 L676.2,598.8 M677.3,589.45 L676.2,588.35 M672.35,588.35 L671.25,589.45 M671.25,593.85 L672.35,594.95 M676.2,594.95 L677.3,593.85" stroke="#4c4200" stroke-width="0.7" fill="none" stroke-linecap="square"/>
<path d="M664.1,591.1 L667.95,595.5" stroke="#4c4200" stroke-width="0.75" fill="none" stroke-linecap="square"/>
<path d="M647.05,598.8 L645.95,599.35 M644.3,599.35 L643.2,598.8 M647.05,588.35 L645.95,587.8 M644.3,587.8 L643.2,588.35 M643.2,594.95 L644.3,595.5 M645.95,595.5 L647.05,594.95 M658.05,583.95 L652,597.42 M676.2,598.8 L675.1,599.35 M673.45,599.35 L672.35,598.8 M676.2,588.35 L675.1,587.8 M673.45,587.8 L672.35,588.35 M672.35,594.95 L673.45,595.5 M675.1,595.5 L676.2,594.95" stroke="#4c4200" stroke-width="0.9" fill="none" stroke-linecap="square"/>
<path d="M648.15,596.6 L647.6,598.25 M642.1,589.45 L641.55,591.1 M641.55,592.2 L642.1,593.85 M677.3,596.6 L676.75,598.25 M671.25,589.45 L670.7,591.1 M670.7,592.2 L671.25,593.85" stroke="#4c4200" stroke-width="0.95" fill="none" stroke-linecap="square"/>
<path d="M648.15,587.8 L648.15,596.6 M645.95,599.35 L644.3,599.35 M645.95,587.8 L644.3,587.8 M641.55,591.1 L641.55,592.2 M644.3,595.5 L645.95,595.5 M661.9,583.95 L661.9,595.5 M677.3,587.8 L677.3,596.6 M675.1,599.35 L673.45,599.35 M675.1,587.8 L673.45,587.8 M670.7,591.1 L670.7,592.2 M673.45,595.5 L675.1,595.5" stroke="#4c4200" stroke-width="1" fill="none" stroke-linecap="square"/>
</g>
<text transform="translate(66,21) scale(0.82,1)" font-size="14.5" xml:space="preserve">WBGG (96413) Sounding</text>
<text transform="translate(565.6,21) scale(0.84,1)" font-size="14.5" xml:space="preserve">0000Z  8 JAN 26</text>
<text transform="translate(699.3,35) scale(0.82,1)" font-size="14.5" xml:space="preserve">WMO:96413</text>
<text transform="translate(699.3,49.78) scale(0.82,1)" font-size="14.5" xml:space="preserve">FRZ:583</text>
<text transform="translate(699.3,64.56) scale(0.82,1)" font-size="14.5" xml:space="preserve">WB0:598</text>
<text transform="translate(699.3,79.34) scale(0.82,1)" font-size="14.5" xml:space="preserve">PW:2.12</text>
<text transform="translate(699.3,94.12) scale(0.82,1)" font-size="14.5" xml:space="preserve">RH:83.2</text>
<text transform="translate(699.3,108.9) scale(0.82,1)" font-size="14.5" xml:space="preserve">MAXT:31.4</text>
<text transform="translate(699.3,123.68) scale(0.82,1)" font-size="14.5" xml:space="preserve">TH:5744</text>
<text transform="translate(699.3,138.46) scale(0.82,1)" font-size="14.5" xml:space="preserve">L57:5.8</text>
<text transform="translate(699.3,153.24) scale(0.82,1)" font-size="14.5" xml:space="preserve">LCL:990</text>
<text transform="translate(699.3,168.02) scale(0.82,1)" font-size="14.5" xml:space="preserve">LI:1.4</text>
<text transform="translate(699.3,182.8) scale(0.82,1)" font-size="14.5" xml:space="preserve">SI:-0.7</text>
<text transform="translate(699.3,197.58) scale(0.82,1)" font-size="14.5" xml:space="preserve">TT:45</text>
<text transform="translate(699.3,212.36) scale(0.82,1)" font-size="14.5" xml:space="preserve">KI:35</text>
<text transform="translate(699.3,227.14) scale(0.82,1)" font-size="14.5" xml:space="preserve">SW:231</text>
<text transform="translate(699.3,241.92) scale(0.82,1)" font-size="14.5" xml:space="preserve">EI:-0.9</text>
<text transform="translate(699.3,256.7) scale(0.82,1)" font-size="14.5" xml:space="preserve">-PARCEL-</text>
<text transform="translate(699.3,271.48) scale(0.82,1)" font-size="14.5" xml:space="preserve">CAPE:24</text>
<text transform="translate(699.3,286.26) scale(0.82,1)" font-size="14.5" xml:space="preserve">CINH:2293</text>
<text transform="translate(699.3,301.04) scale(0.82,1)" font-size="14.5" xml:space="preserve">LCL:912</text>
<text transform="translate(699.3,315.82) scale(0.82,1)" font-size="14.5" xml:space="preserve">CAP:2.9</text>
<text transform="translate(699.3,330.6) scale(0.82,1)" font-size="14.5" xml:space="preserve">LFC:-1</text>
<text transform="translate(699.3,345.38) scale(0.82,1)" font-size="14.5" xml:space="preserve">-WIND-</text>
<text transform="translate(699.3,360.16) scale(0.82,1)" font-size="14.5" xml:space="preserve">STM:287/13</text>
<text transform="translate(699.3,374.94) scale(0.82,1)" font-size="14.5" xml:space="preserve">HEL:-114</text>
<text transform="translate(699.3,389.72) scale(0.82,1)" font-size="14.5" xml:space="preserve">SHR+:0.0</text>
<text transform="translate(699.3,404.5) scale(0.82,1)" font-size="14.5" xml:space="preserve">SRDS:59</text>
<text transform="translate(699.3,419.28) scale(0.82,1)" font-size="14.5" xml:space="preserve">EHI:0.0</text>
<text transform="translate(699.3,434.06) scale(0.82,1)" font-size="14.5" xml:space="preserve">BRN:0.2</text>
<text transform="translate(699.3,448.84) scale(0.82,1)" font-size="14.5" xml:space="preserve">BSHR:142</text>
</svg></body></html>
